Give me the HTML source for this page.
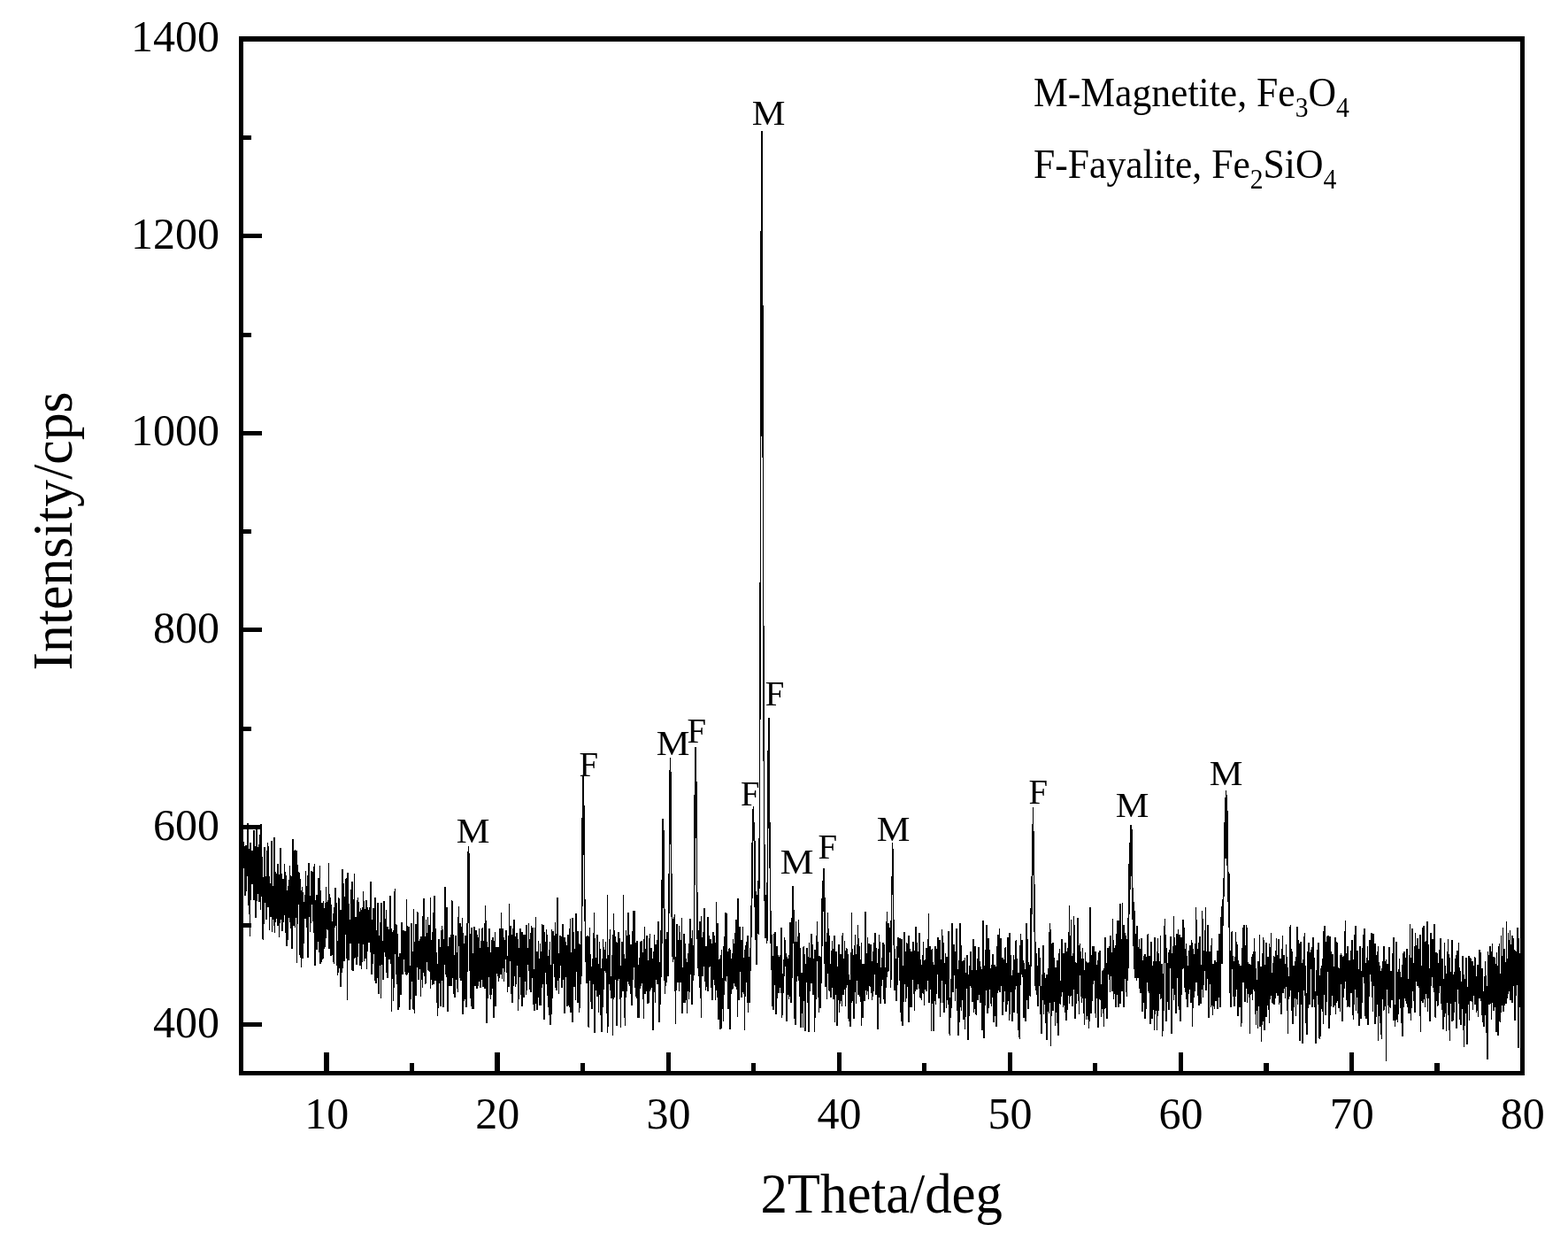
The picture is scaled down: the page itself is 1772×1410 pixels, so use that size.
<!DOCTYPE html>
<html lang="en"><head><meta charset="utf-8"><title>XRD pattern</title>
<style>
html,body{margin:0;padding:0;background:#fff;}
body{width:1772px;height:1410px;overflow:hidden;}
svg{display:block;}
text{font-family:"Liberation Serif",serif;fill:#000;}
.tick{font-size:50px;}
.ttl{font-size:62.5px;}
.leg{font-size:45.7px;}
.pk{font-size:40px;}
</style></head><body>
<svg width="1772" height="1410" viewBox="0 0 1772 1410">
<rect x="0" y="0" width="1772" height="1410" fill="#fff"/>

<polyline points="272.46,960.0 272.65,929.1 272.85,934.6 273.04,979.5 273.23,978.7 273.43,988.4 273.62,966.0 273.81,983.0 274.00,964.2 274.20,1024.8 274.39,942.1 274.58,979.4 274.78,958.6 274.97,976.0 275.16,980.4 275.36,959.8 275.55,951.5 275.74,976.6 275.94,976.0 276.13,956.3 276.32,992.8 276.51,1006.8 276.71,959.9 276.90,983.7 277.09,1012.0 277.29,985.3 277.48,978.3 277.67,997.6 277.87,1007.2 278.06,973.5 278.25,955.1 278.45,983.3 278.64,995.8 278.83,969.1 279.02,961.3 279.22,985.9 279.41,967.2 279.60,957.7 279.80,990.1 279.99,930.0 280.18,980.3 280.38,982.5 280.57,961.9 280.76,1018.3 280.96,1003.9 281.15,1009.3 281.34,1032.2 281.53,990.0 281.73,981.6 281.92,1011.4 282.11,959.5 282.31,1058.0 282.50,969.9 282.69,969.9 282.89,951.9 283.08,1003.0 283.27,956.1 283.47,957.7 283.66,1016.6 283.85,969.0 284.04,984.8 284.24,960.9 284.43,989.4 284.62,978.7 284.82,969.8 285.01,998.9 285.20,964.9 285.40,983.3 285.59,971.7 285.78,998.1 285.98,961.3 286.17,972.4 286.36,989.7 286.55,968.6 286.75,951.9 286.94,938.1 287.13,1017.1 287.33,959.0 287.52,969.2 287.71,983.4 287.91,1007.1 288.10,956.5 288.29,1019.9 288.49,980.5 288.68,966.0 288.87,1036.5 289.06,1006.4 289.26,1028.4 289.45,987.4 289.64,951.8 289.84,933.5 290.03,1017.9 290.22,985.9 290.42,954.4 290.61,934.4 290.80,964.2 291.00,995.3 291.19,974.6 291.38,985.9 291.57,994.1 291.77,1009.9 291.96,985.4 292.15,987.5 292.35,995.9 292.54,996.7 292.73,1018.7 292.93,996.6 293.12,954.5 293.31,987.4 293.51,1018.9 293.70,956.5 293.89,978.2 294.08,943.1 294.28,992.5 294.47,1005.3 294.66,1028.1 294.86,961.8 295.05,931.3 295.24,1010.3 295.44,1006.4 295.63,978.1 295.82,1013.1 296.02,1001.2 296.21,1003.3 296.40,990.1 296.59,968.5 296.79,994.9 296.98,1061.0 297.17,1012.9 297.37,1000.1 297.56,1062.1 297.75,1048.2 297.95,995.3 298.14,1024.8 298.33,991.9 298.53,986.1 298.72,960.9 298.91,966.5 299.11,956.9 299.30,981.1 299.49,995.7 299.68,1000.0 299.88,999.4 300.07,1019.9 300.26,1010.4 300.46,1001.2 300.65,992.4 300.84,1004.2 301.04,1038.9 301.23,992.6 301.42,982.7 301.62,961.0 301.81,973.5 302.00,1005.1 302.19,1011.6 302.39,952.3 302.58,985.4 302.77,962.5 302.97,956.2 303.16,1024.5 303.35,995.1 303.55,992.6 303.74,990.4 303.93,992.3 304.13,1003.3 304.32,1007.9 304.51,1050.6 304.70,1021.8 304.90,1036.4 305.09,1016.2 305.28,1029.5 305.48,1003.2 305.67,997.6 305.86,1009.1 306.06,1009.5 306.25,1016.2 306.44,1030.9 306.64,1026.4 306.83,1035.7 307.02,950.0 307.21,1024.0 307.41,1009.9 307.60,1053.4 307.79,1000.7 307.99,1037.5 308.18,1034.7 308.37,1020.4 308.57,1027.4 308.76,1006.4 308.95,1026.6 309.15,1039.4 309.34,1036.1 309.53,987.7 309.72,1018.1 309.92,946.0 310.11,1018.5 310.30,1054.2 310.50,974.8 310.69,1048.9 310.88,999.3 311.08,996.0 311.27,1041.8 311.46,1001.3 311.66,985.4 311.85,998.2 312.04,1003.4 312.23,987.4 312.43,1005.9 312.62,1002.7 312.81,1015.4 313.01,999.7 313.20,1037.9 313.39,999.6 313.59,1031.9 313.78,1046.4 313.97,1011.1 314.17,976.0 314.36,987.9 314.55,1017.9 314.74,986.5 314.94,1011.5 315.13,1003.9 315.32,1000.5 315.52,1058.7 315.71,1003.4 315.90,1033.8 316.10,1026.6 316.29,1043.3 316.48,1041.5 316.68,1024.7 316.87,980.3 317.06,958.3 317.25,995.8 317.45,968.7 317.64,999.7 317.83,1038.5 318.03,992.2 318.22,987.5 318.41,1010.2 318.61,996.2 318.80,994.0 318.99,1032.4 319.19,1052.2 319.38,1028.1 319.57,1032.0 319.76,1038.4 319.96,1009.4 320.15,993.0 320.34,1041.8 320.54,1014.3 320.73,1006.6 320.92,1010.2 321.12,1001.2 321.31,1033.5 321.50,1006.4 321.70,975.6 321.89,1002.5 322.08,1034.2 322.27,1005.6 322.47,991.3 322.66,1013.2 322.85,1036.2 323.05,988.7 323.24,1053.9 323.43,1013.8 323.63,1025.9 323.82,1052.6 324.01,1069.0 324.21,1015.0 324.40,1048.8 324.59,1006.5 324.78,1028.8 324.98,1061.5 325.17,1032.7 325.36,1010.1 325.56,1001.3 325.75,1012.4 325.94,1016.0 326.14,1007.3 326.33,1024.5 326.52,994.1 326.72,1018.6 326.91,1014.7 327.10,1007.5 327.29,1042.4 327.49,1032.1 327.68,978.0 327.87,1002.1 328.07,1012.2 328.26,994.1 328.45,1010.6 328.65,992.5 328.84,1016.1 329.03,999.2 329.23,1048.7 329.42,989.8 329.61,1040.2 329.80,1071.6 330.00,1044.4 330.19,1047.8 330.38,1032.0 330.58,1055.5 330.77,1012.8 330.96,948.4 331.16,1038.6 331.35,997.2 331.54,1010.2 331.74,998.8 331.93,1046.4 332.12,1033.8 332.31,999.8 332.51,1014.2 332.70,979.2 332.89,1036.7 333.09,1020.0 333.28,960.1 333.47,1045.3 333.67,1048.0 333.86,1026.5 334.05,1024.3 334.25,1001.6 334.44,1016.3 334.63,1036.4 334.82,1015.3 335.02,961.4 335.21,994.1 335.40,1087.7 335.60,1027.4 335.79,1044.1 335.98,1009.5 336.18,1026.8 336.37,977.2 336.56,998.6 336.76,998.5 336.95,1014.0 337.14,1018.3 337.33,1008.5 337.53,985.4 337.72,1002.1 337.91,1022.0 338.11,985.8 338.30,1012.8 338.49,1021.5 338.69,1039.5 338.88,1034.4 339.07,1034.8 339.27,1082.0 339.46,992.8 339.65,1001.9 339.84,1020.6 340.04,1080.0 340.23,1014.1 340.42,1021.7 340.62,1092.9 340.81,1047.1 341.00,1033.1 341.20,1009.1 341.39,1001.6 341.58,1007.0 341.78,1061.9 341.97,1082.5 342.16,1017.8 342.35,1029.7 342.55,1008.2 342.74,1033.2 342.93,1025.8 343.13,1065.5 343.32,1021.0 343.51,1040.9 343.71,1022.2 343.90,1019.2 344.09,1032.0 344.29,1021.9 344.48,1029.5 344.67,1011.4 344.86,1015.7 345.06,1037.6 345.25,1037.1 345.44,983.6 345.64,1025.9 345.83,1001.0 346.02,1014.4 346.22,1035.7 346.41,1039.1 346.60,1018.2 346.80,1014.1 346.99,1005.4 347.18,1048.3 347.38,1034.0 347.57,1024.6 347.76,988.8 347.95,1081.7 348.15,1019.1 348.34,1039.6 348.53,1013.5 348.73,1029.5 348.92,1005.1 349.11,974.6 349.31,1001.2 349.50,1000.7 349.69,1005.3 349.89,1035.8 350.08,1012.1 350.27,1034.7 350.46,1053.1 350.66,1038.3 350.85,1043.3 351.04,1019.8 351.24,1035.2 351.43,1042.1 351.62,991.5 351.82,996.3 352.01,984.3 352.20,994.8 352.40,1008.2 352.59,1014.4 352.78,1011.9 352.97,985.2 353.17,1005.0 353.36,1041.1 353.55,1007.7 353.75,1038.0 353.94,1000.9 354.13,1031.2 354.33,1033.4 354.52,1004.8 354.71,1013.3 354.91,1053.8 355.10,1003.8 355.29,976.3 355.48,1063.1 355.68,992.1 355.87,1052.9 356.06,1091.0 356.26,1048.1 356.45,1078.7 356.64,1016.7 356.84,1033.4 357.03,1058.8 357.22,1044.3 357.42,1068.5 357.61,1039.9 357.80,1011.0 357.99,1073.3 358.19,1048.0 358.38,1039.1 358.57,1022.5 358.77,1018.2 358.96,1059.6 359.15,1064.3 359.35,1033.7 359.54,1047.5 359.73,1041.7 359.93,1007.2 360.12,992.2 360.31,1024.5 360.50,1035.7 360.70,1019.4 360.89,1075.6 361.08,1033.6 361.28,1056.7 361.47,977.7 361.66,1013.9 361.86,1026.1 362.05,1034.4 362.24,1089.3 362.44,1020.8 362.63,1005.8 362.82,1064.1 363.01,1035.5 363.21,1036.2 363.40,1087.2 363.59,1030.3 363.79,1020.1 363.98,1045.0 364.17,1051.2 364.37,1031.8 364.56,1083.9 364.75,1045.9 364.95,1021.9 365.14,1070.9 365.33,1017.6 365.52,1046.7 365.72,1082.5 365.91,1038.3 366.10,1059.8 366.30,1034.2 366.49,1072.0 366.68,1026.2 366.88,1069.9 367.07,1047.0 367.26,1067.8 367.46,1058.8 367.65,1020.5 367.84,1037.5 368.03,1046.0 368.23,1060.2 368.42,1001.7 368.61,1008.6 368.81,1031.4 369.00,1019.1 369.19,1049.1 369.39,1050.1 369.58,1046.5 369.77,1020.4 369.97,1022.5 370.16,1047.6 370.35,1017.0 370.54,1019.2 370.74,1036.2 370.93,1019.5 371.12,1051.4 371.32,1048.8 371.51,975.0 371.70,1046.8 371.90,1027.0 372.09,1071.6 372.28,1010.2 372.48,1058.8 372.67,1044.4 372.86,1071.7 373.05,1028.1 373.25,1014.0 373.44,1019.5 373.63,1025.5 373.83,1079.7 374.02,1062.6 374.21,1055.6 374.41,1066.9 374.60,1022.0 374.79,1044.8 374.99,1051.7 375.18,1042.7 375.37,1077.4 375.56,1078.4 375.76,1078.8 375.95,1047.3 376.14,1049.6 376.34,1043.4 376.53,1032.1 376.72,1087.2 376.92,1070.2 377.11,1054.9 377.30,1088.6 377.50,1069.5 377.69,1032.9 377.88,1028.0 378.07,1025.2 378.27,1045.0 378.46,1047.5 378.65,1015.8 378.85,1046.0 379.04,1027.7 379.23,1003.2 379.43,1039.0 379.62,1043.3 379.81,1030.6 380.01,1019.8 380.20,1026.8 380.39,1039.6 380.58,1036.6 380.78,1091.0 380.97,1080.3 381.16,1062.6 381.36,1090.8 381.55,1102.2 381.74,1100.0 381.94,1092.4 382.13,1072.9 382.32,1087.2 382.52,1053.3 382.71,1014.3 382.90,1050.0 383.09,1014.9 383.29,1036.7 383.48,1070.9 383.67,1056.8 383.87,1079.4 384.06,1046.3 384.25,1093.5 384.45,1040.8 384.64,1058.1 384.83,1114.9 385.03,1049.3 385.22,1028.2 385.41,1076.7 385.60,1033.9 385.80,1093.2 385.99,1044.6 386.18,1085.0 386.38,1035.1 386.57,1083.3 386.76,1098.7 386.96,1027.0 387.15,981.6 387.34,1041.2 387.54,1006.7 387.73,1022.1 387.92,1033.5 388.11,1016.3 388.31,998.2 388.50,1067.7 388.69,1033.2 388.89,1043.1 389.08,1086.1 389.27,1020.3 389.47,1013.5 389.66,1078.3 389.85,1017.6 390.05,1053.7 390.24,1056.2 390.43,1015.0 390.62,1037.6 390.82,1028.4 391.01,994.3 391.20,992.6 391.40,996.6 391.59,1045.4 391.78,1049.6 391.98,992.0 392.17,1041.7 392.36,1130.4 392.56,1052.6 392.75,1035.6 392.94,986.0 393.13,999.1 393.33,1060.2 393.52,1043.0 393.71,1048.0 393.91,1021.4 394.10,1084.5 394.29,1057.4 394.49,1063.4 394.68,1047.2 394.87,1046.9 395.07,1064.9 395.26,1046.5 395.45,1058.2 395.65,1039.0 395.84,1052.4 396.03,1066.2 396.22,1054.1 396.42,1046.9 396.61,1004.9 396.80,1065.2 397.00,1045.7 397.19,1018.3 397.38,1095.6 397.58,1087.4 397.77,1075.3 397.96,1052.1 398.16,995.7 398.35,1041.2 398.54,1021.7 398.73,1050.6 398.93,1097.3 399.12,1091.5 399.31,1016.3 399.51,1035.5 399.70,1070.8 399.89,1020.4 400.09,1082.7 400.28,1026.6 400.47,987.0 400.67,1073.3 400.86,1081.7 401.05,1038.3 401.24,1080.6 401.44,1036.2 401.63,1081.4 401.82,1035.9 402.02,1050.2 402.21,1060.5 402.40,1069.5 402.60,1043.4 402.79,1090.1 402.98,1054.5 403.18,1058.3 403.37,1036.3 403.56,1081.2 403.75,1017.0 403.95,1062.6 404.14,1080.6 404.33,1023.1 404.53,1014.4 404.72,1052.7 404.91,1066.0 405.11,1044.8 405.30,1061.3 405.49,1055.9 405.69,1019.3 405.88,1050.8 406.07,1061.7 406.26,1062.3 406.46,1076.0 406.65,1060.1 406.84,1062.1 407.04,1090.7 407.23,1079.1 407.42,1025.6 407.62,1067.6 407.81,1079.3 408.00,1028.4 408.20,1072.2 408.39,1095.1 408.58,1054.2 408.77,1087.4 408.97,1076.7 409.16,1056.2 409.35,1063.1 409.55,1073.5 409.74,1065.5 409.93,1064.3 410.13,1024.8 410.32,1067.4 410.51,1065.1 410.71,1007.5 410.90,1064.3 411.09,1018.5 411.28,1022.7 411.48,1056.4 411.67,1086.0 411.86,1046.2 412.06,1042.8 412.25,1037.6 412.44,1058.2 412.64,1033.1 412.83,1028.8 413.02,1082.9 413.22,1027.5 413.41,1054.8 413.60,1071.0 413.79,1065.6 413.99,1017.1 414.18,1035.7 414.37,1094.6 414.57,1050.0 414.76,1051.5 414.95,1049.4 415.15,1055.0 415.34,1075.4 415.53,1025.0 415.73,1065.7 415.92,1053.5 416.11,1058.7 416.30,1061.1 416.50,1028.0 416.69,1035.3 416.88,1058.4 417.08,1064.8 417.27,1055.2 417.46,1024.8 417.66,1044.6 417.85,1042.4 418.04,1053.6 418.24,1049.1 418.43,1034.5 418.62,1075.6 418.81,996.2 419.01,1048.0 419.20,1044.8 419.39,1007.5 419.59,1039.1 419.78,1050.9 419.97,1072.5 420.17,1100.9 420.36,1067.0 420.55,1046.9 420.75,1092.4 420.94,1039.1 421.13,1088.7 421.32,1073.8 421.52,1040.2 421.71,1045.9 421.90,1026.3 422.10,1054.8 422.29,1059.4 422.48,1078.0 422.68,1065.1 422.87,1065.3 423.06,1077.4 423.26,1045.1 423.45,1072.7 423.64,1107.5 423.83,1013.8 424.03,1090.4 424.22,1101.8 424.41,1048.0 424.61,1050.5 424.80,1102.6 424.99,1110.5 425.19,1100.8 425.38,1054.1 425.57,1086.0 425.77,1097.3 425.96,1079.9 426.15,1051.1 426.34,1105.4 426.54,1080.3 426.73,1099.7 426.92,1020.0 427.12,1027.8 427.31,1048.1 427.50,1074.3 427.70,1059.6 427.89,1123.1 428.08,1073.1 428.28,1110.5 428.47,1111.1 428.66,1096.6 428.85,1086.4 429.05,1062.8 429.24,1056.9 429.43,1064.2 429.63,1089.5 429.82,1053.6 430.01,1071.2 430.21,1042.5 430.40,1087.9 430.59,1127.5 430.79,1076.9 430.98,1019.9 431.17,1058.6 431.36,1075.1 431.56,1053.0 431.75,1063.1 431.94,1066.2 432.14,1089.7 432.33,1078.4 432.52,1076.7 432.72,1095.7 432.91,1106.6 433.10,1079.3 433.30,1060.9 433.49,1067.0 433.68,1068.7 433.87,1066.1 434.07,1018.1 434.26,1067.8 434.45,1050.8 434.65,1032.0 434.84,1075.5 435.03,1072.0 435.23,1054.7 435.42,1038.4 435.61,1064.1 435.81,1057.1 436.00,1057.1 436.19,1081.3 436.38,1028.1 436.58,1058.3 436.77,1092.6 436.96,1061.3 437.16,1099.4 437.35,1086.3 437.54,1065.8 437.74,1088.2 437.93,1046.6 438.12,1105.0 438.32,1070.7 438.51,1068.7 438.70,1052.8 438.89,1066.7 439.09,1081.7 439.28,1082.8 439.47,1081.8 439.67,1050.0 439.86,1083.6 440.05,1052.9 440.25,1063.1 440.44,1054.0 440.63,1064.6 440.83,1012.4 441.02,1074.7 441.21,1056.1 441.40,1056.5 441.60,1050.4 441.79,1055.7 441.98,1058.4 442.18,1048.7 442.37,1143.0 442.56,1074.5 442.76,1103.8 442.95,1073.6 443.14,1106.1 443.34,1102.6 443.53,1084.0 443.72,1052.8 443.92,1071.1 444.11,1077.6 444.30,1053.8 444.49,1105.8 444.69,1131.0 444.88,1093.6 445.07,1087.7 445.27,1050.5 445.46,1025.8 445.65,1096.0 445.85,1007.1 446.04,1022.8 446.23,1036.2 446.43,1045.9 446.62,1004.2 446.81,1057.7 447.00,1074.3 447.20,1065.0 447.39,1101.3 447.58,1063.5 447.78,1077.6 447.97,1068.7 448.16,1068.0 448.36,1098.2 448.55,1045.1 448.74,1095.7 448.94,1055.1 449.13,1111.8 449.32,1072.2 449.51,1102.0 449.71,1086.6 449.90,1104.8 450.09,1141.0 450.29,1119.7 450.48,1094.3 450.67,1081.4 450.87,1125.6 451.06,1138.4 451.25,1110.2 451.45,1095.9 451.64,1106.1 451.83,1111.6 452.02,1077.4 452.22,1077.4 452.41,1084.3 452.60,1121.8 452.80,1098.9 452.99,1102.0 453.18,1124.4 453.38,1068.3 453.57,1079.9 453.76,1087.2 453.96,1041.7 454.15,1053.7 454.34,1050.9 454.53,1044.0 454.73,1056.0 454.92,1100.7 455.11,1083.2 455.31,1054.7 455.50,1095.6 455.69,1079.9 455.89,1073.2 456.08,1050.8 456.27,1053.3 456.47,1061.0 456.66,1083.9 456.85,1059.6 457.04,1068.4 457.24,1084.1 457.43,1051.6 457.62,1070.6 457.82,1097.6 458.01,1052.3 458.20,1082.5 458.40,1059.3 458.59,1100.6 458.78,1063.7 458.98,1081.4 459.17,1081.2 459.36,1102.4 459.55,1015.9 459.75,1068.4 459.94,1062.6 460.13,1046.1 460.33,1074.7 460.52,1061.2 460.71,1101.1 460.91,1065.2 461.10,1075.9 461.29,1053.4 461.49,1057.8 461.68,1089.8 461.87,1099.0 462.06,1082.0 462.26,1046.8 462.45,1057.9 462.64,1063.5 462.84,1121.6 463.03,1141.3 463.22,1100.9 463.42,1098.9 463.61,1108.8 463.80,1091.3 464.00,1105.3 464.19,1128.9 464.38,1122.3 464.57,1098.7 464.77,1097.5 464.96,1097.1 465.15,1042.7 465.35,1095.3 465.54,1085.5 465.73,1109.2 465.93,1095.0 466.12,1075.9 466.31,1075.2 466.51,1090.6 466.70,1076.7 466.89,1081.3 467.08,1120.5 467.28,1140.7 467.47,1026.8 467.66,1060.8 467.86,1083.8 468.05,1124.5 468.24,1118.2 468.44,1063.6 468.63,1145.2 468.82,1103.0 469.02,1077.3 469.21,1092.7 469.40,1078.9 469.59,1098.5 469.79,1044.4 469.98,1119.0 470.17,1125.1 470.37,1086.6 470.56,1056.7 470.75,1083.0 470.95,1052.5 471.14,1081.2 471.33,1091.4 471.53,1033.4 471.72,1030.2 471.91,1032.6 472.10,1077.9 472.30,1096.1 472.49,1098.7 472.68,1079.7 472.88,1063.1 473.07,1065.0 473.26,1107.0 473.46,1070.8 473.65,1073.5 473.84,1070.9 474.04,1073.2 474.23,1077.5 474.42,1061.1 474.61,1072.7 474.81,1072.4 475.00,1094.5 475.19,1072.2 475.39,1083.6 475.58,1126.3 475.77,1068.9 475.97,1084.4 476.16,1057.8 476.35,1081.1 476.55,1079.5 476.74,1072.9 476.93,1078.0 477.12,1087.4 477.32,1115.8 477.51,1035.4 477.70,1108.6 477.90,1080.9 478.09,1058.8 478.28,1064.5 478.48,1060.5 478.67,1056.6 478.86,1046.8 479.06,1069.4 479.25,1015.0 479.44,1102.5 479.63,1078.1 479.83,1093.6 480.02,1101.1 480.21,1086.8 480.41,1064.3 480.60,1112.4 480.79,1110.8 480.99,1076.1 481.18,1075.6 481.37,1038.9 481.57,1052.2 481.76,1062.9 481.95,1069.6 482.14,1053.9 482.34,1060.7 482.53,1087.0 482.72,1058.9 482.92,1065.8 483.11,1070.6 483.30,1078.8 483.50,1036.4 483.69,1060.6 483.88,1056.2 484.08,1089.1 484.27,1096.7 484.46,1078.9 484.65,1065.4 484.85,1076.0 485.04,1070.8 485.23,1045.5 485.43,1061.8 485.62,1093.9 485.81,1087.1 486.01,1097.7 486.20,1084.4 486.39,1117.2 486.59,1014.0 486.78,1078.5 486.97,1090.6 487.16,1106.9 487.36,1095.8 487.55,1076.3 487.74,1067.7 487.94,1061.6 488.13,1085.4 488.32,1112.7 488.52,1053.3 488.71,1076.0 488.90,1069.8 489.10,1066.7 489.29,1089.9 489.48,1068.9 489.67,1051.7 489.87,1030.9 490.06,1049.3 490.25,1112.3 490.45,1054.0 490.64,1041.5 490.83,1022.6 491.03,1037.7 491.22,1012.1 491.41,1029.8 491.61,1036.9 491.80,1051.7 491.99,1107.8 492.19,1064.1 492.38,1072.7 492.57,1098.8 492.76,1076.0 492.96,1080.9 493.15,1101.3 493.34,1095.2 493.54,1099.2 493.73,1089.8 493.92,1106.6 494.12,1089.2 494.31,1146.5 494.50,1114.8 494.70,1147.9 494.89,1124.9 495.08,1103.7 495.27,1112.4 495.47,1111.0 495.66,1100.8 495.85,1060.7 496.05,1111.2 496.24,1061.5 496.43,1108.9 496.63,1083.9 496.82,1070.1 497.01,1094.7 497.21,1076.5 497.40,1070.3 497.59,1116.2 497.78,1094.7 497.98,1102.5 498.17,1136.6 498.36,1097.6 498.56,1109.1 498.75,1061.3 498.94,1108.0 499.14,1051.0 499.33,1099.1 499.52,1046.1 499.72,1077.5 499.91,1080.2 500.10,1072.7 500.29,1070.4 500.49,1058.7 500.68,1050.0 500.87,1092.7 501.07,1109.4 501.26,1137.7 501.45,1086.5 501.65,1060.8 501.84,1069.1 502.03,1075.3 502.23,1085.0 502.42,1089.9 502.61,1080.1 502.80,1063.1 503.00,1002.0 503.19,1051.6 503.38,1098.1 503.58,1070.2 503.77,1082.3 503.96,1079.8 504.16,1098.1 504.35,1103.5 504.54,1084.7 504.74,1102.7 504.93,1025.0 505.12,1087.3 505.31,1093.7 505.51,1093.9 505.70,1108.9 505.89,1142.9 506.09,1098.7 506.28,1088.4 506.47,1127.2 506.67,1091.8 506.86,1113.7 507.05,1082.8 507.25,1068.9 507.44,1062.8 507.63,1063.5 507.82,1090.2 508.02,1059.3 508.21,1091.9 508.40,1077.7 508.60,1071.4 508.79,1093.3 508.98,1113.5 509.18,1071.0 509.37,1106.9 509.56,1100.3 509.76,1102.2 509.95,1056.5 510.14,1073.9 510.33,1113.9 510.53,1044.0 510.72,1018.0 510.91,1018.0 511.11,1062.6 511.30,1051.5 511.49,1048.3 511.69,1047.5 511.88,1073.6 512.07,1104.9 512.27,1070.7 512.46,1077.8 512.65,1122.6 512.84,1103.6 513.04,1090.3 513.23,1095.8 513.42,1084.1 513.62,1078.8 513.81,1085.1 514.00,1099.9 514.20,1127.0 514.39,1084.9 514.58,1068.5 514.78,1056.9 514.97,1101.3 515.16,1101.8 515.35,1069.5 515.55,1068.0 515.74,1088.9 515.93,1078.0 516.13,1107.3 516.32,1076.0 516.51,1104.4 516.71,1087.9 516.90,1085.3 517.09,1089.8 517.29,1121.0 517.48,1087.8 517.67,1056.6 517.86,1058.4 518.06,1059.2 518.25,1036.3 518.44,1027.5 518.64,1023.6 518.83,1062.1 519.02,1049.8 519.22,1064.8 519.41,1084.0 519.60,1104.6 519.80,1081.1 519.99,1103.7 520.18,1042.9 520.37,1094.4 520.57,1097.9 520.76,1100.7 520.95,1049.4 521.15,1107.5 521.34,1087.6 521.53,1097.4 521.73,1079.9 521.92,1074.3 522.11,1046.7 522.31,1099.7 522.50,1070.2 522.69,1037.0 522.88,1086.6 523.08,1145.6 523.27,1103.6 523.46,1144.8 523.66,1093.1 523.85,1066.4 524.04,1101.7 524.24,1130.9 524.43,1085.0 524.62,1089.1 524.82,1069.6 525.01,1072.3 525.20,1098.4 525.39,1083.5 525.59,1129.3 525.78,1063.4 525.97,1079.9 526.17,1057.5 526.36,1056.9 526.55,1087.4 526.75,1087.7 526.94,1107.8 527.13,1137.9 527.33,1098.1 527.52,1091.3 527.71,1114.0 527.90,1065.0 528.10,1065.1 528.29,1040.0 528.48,1048.6 528.68,1051.3 528.87,971.7 529.06,980.9 529.26,962.4 529.45,955.7 529.64,960.9 529.84,965.7 530.03,988.7 530.22,1042.5 530.41,999.1 530.61,1073.1 530.80,1066.7 530.99,1082.1 531.19,1080.7 531.38,1128.1 531.57,1068.1 531.77,1078.3 531.96,1071.5 532.15,1055.3 532.35,1094.9 532.54,1136.9 532.73,1067.0 532.92,1048.3 533.12,1055.7 533.31,1097.1 533.50,1092.5 533.70,1089.6 533.89,1139.7 534.08,1119.6 534.28,1122.7 534.47,1077.3 534.66,1126.4 534.86,1077.2 535.05,1107.9 535.24,1140.4 535.43,1051.3 535.63,1114.4 535.82,1074.5 536.01,1046.6 536.21,1092.6 536.40,1107.4 536.59,1059.6 536.79,1083.1 536.98,1113.6 537.17,1112.6 537.37,1098.5 537.56,1068.9 537.75,1095.0 537.94,1073.9 538.14,1051.3 538.33,1057.9 538.52,1052.8 538.72,1056.2 538.91,1117.1 539.10,1056.1 539.30,1075.5 539.49,1085.3 539.68,1105.1 539.88,1114.4 540.07,1102.0 540.26,1076.7 540.46,1100.6 540.65,1092.0 540.84,1086.8 541.03,1058.8 541.23,1080.2 541.42,1078.6 541.61,1049.1 541.81,1087.5 542.00,1070.8 542.19,1109.3 542.39,1081.9 542.58,1089.0 542.77,1089.8 542.97,1104.5 543.16,1116.2 543.35,1098.6 543.54,1099.3 543.74,1063.9 543.93,1063.9 544.12,1106.7 544.32,1064.4 544.51,1085.4 544.70,1062.7 544.90,1081.2 545.09,1101.6 545.28,1047.6 545.48,1060.2 545.67,1097.9 545.86,1115.4 546.05,1090.6 546.25,1109.5 546.44,1096.7 546.63,1079.2 546.83,1062.6 547.02,1101.9 547.21,1063.1 547.41,1064.9 547.60,1095.3 547.79,1117.3 547.99,1059.2 548.18,1062.2 548.37,1023.5 548.56,1043.4 548.76,1058.0 548.95,1039.8 549.14,1101.3 549.34,1078.6 549.53,1094.3 549.72,1057.6 549.92,1090.0 550.11,1155.8 550.30,1083.8 550.50,1136.4 550.69,1101.6 550.88,1127.9 551.07,1110.0 551.27,1098.1 551.46,1103.5 551.65,1124.2 551.85,1070.5 552.04,1090.0 552.23,1097.0 552.43,1079.2 552.62,1103.5 552.81,1049.5 553.01,1084.3 553.20,1081.6 553.39,1083.9 553.58,1114.2 553.78,1123.6 553.97,1097.3 554.16,1097.2 554.36,1077.5 554.55,1097.1 554.74,1129.0 554.94,1091.5 555.13,1081.7 555.32,1074.5 555.52,1085.7 555.71,1116.1 555.90,1062.4 556.09,1101.2 556.29,1071.4 556.48,1117.2 556.67,1068.2 556.87,1104.6 557.06,1068.8 557.25,1058.6 557.45,1074.7 557.64,1126.1 557.83,1119.9 558.03,1150.0 558.22,1077.4 558.41,1080.2 558.60,1081.1 558.80,1075.9 558.99,1070.3 559.18,1071.4 559.38,1053.0 559.57,1094.6 559.76,1091.9 559.96,1137.1 560.15,1125.1 560.34,1110.5 560.54,1120.2 560.73,1089.3 560.92,1070.4 561.11,1099.7 561.31,1097.6 561.50,1095.1 561.69,1079.0 561.89,1092.9 562.08,1073.0 562.27,1078.9 562.47,1082.6 562.66,1079.1 562.85,1100.5 563.05,1102.5 563.24,1070.0 563.43,1108.6 563.62,1087.6 563.82,1099.1 564.01,1104.8 564.20,1099.2 564.40,1101.6 564.59,1079.1 564.78,1089.4 564.98,1084.3 565.17,1049.4 565.36,1080.6 565.56,1056.2 565.75,1078.2 565.94,1067.9 566.13,1101.2 566.33,1085.3 566.52,1031.5 566.71,1070.1 566.91,1065.3 567.10,1080.3 567.29,1064.9 567.49,1106.2 567.68,1096.0 567.87,1063.7 568.07,1049.5 568.26,1069.9 568.45,1060.4 568.64,1062.1 568.84,1059.2 569.03,1084.2 569.22,1093.5 569.42,1068.9 569.61,1108.6 569.80,1094.7 570.00,1088.3 570.19,1095.5 570.38,1065.0 570.58,1077.1 570.77,1066.5 570.96,1084.4 571.15,1077.8 571.35,1051.4 571.54,1057.1 571.73,1078.7 571.93,1065.2 572.12,1073.6 572.31,1078.6 572.51,1051.0 572.70,1097.1 572.89,1081.8 573.09,1084.0 573.28,1100.0 573.47,1120.9 573.66,1080.5 573.86,1089.1 574.05,1092.5 574.24,1090.8 574.44,1086.9 574.63,1102.3 574.82,1072.8 575.02,1115.4 575.21,1074.7 575.40,1021.4 575.60,1079.8 575.79,1056.8 575.98,1078.3 576.17,1083.6 576.37,1062.8 576.56,1080.9 576.75,1085.1 576.95,1086.1 577.14,1046.3 577.33,1066.9 577.53,1073.5 577.72,1113.0 577.91,1077.5 578.11,1122.5 578.30,1086.8 578.49,1122.6 578.68,1055.8 578.88,1132.7 579.07,1066.9 579.26,1072.3 579.46,1124.1 579.65,1087.6 579.84,1048.7 580.04,1053.9 580.23,1114.0 580.42,1090.1 580.62,1105.0 580.81,1101.8 581.00,1093.2 581.19,1039.3 581.39,1076.8 581.58,1085.9 581.77,1089.9 581.97,1069.9 582.16,1071.3 582.35,1108.3 582.55,1058.4 582.74,1114.8 582.93,1098.2 583.13,1082.7 583.32,1054.4 583.51,1096.6 583.70,1080.2 583.90,1055.4 584.09,1067.4 584.28,1054.2 584.48,1054.6 584.67,1072.0 584.86,1066.7 585.06,1064.9 585.25,1090.6 585.44,1060.7 585.64,1142.2 585.83,1121.6 586.02,1071.4 586.21,1093.1 586.41,1115.3 586.60,1090.9 586.79,1072.3 586.99,1103.9 587.18,1071.0 587.37,1085.8 587.57,1081.6 587.76,1077.2 587.95,1048.9 588.15,1095.6 588.34,1080.2 588.53,1061.7 588.73,1108.5 588.92,1123.8 589.11,1085.0 589.30,1104.2 589.50,1113.2 589.69,1111.0 589.88,1137.0 590.08,1053.3 590.27,1134.9 590.46,1118.8 590.66,1135.3 590.85,1109.1 591.04,1063.3 591.24,1092.8 591.43,1079.2 591.62,1103.2 591.81,1056.3 592.01,1094.7 592.20,1127.2 592.39,1084.4 592.59,1107.6 592.78,1082.9 592.97,1088.0 593.17,1080.1 593.36,1078.3 593.55,1097.4 593.75,1108.9 593.94,1056.3 594.13,1082.3 594.32,1075.4 594.52,1092.2 594.71,1124.4 594.90,1105.6 595.10,1044.6 595.29,1088.1 595.48,1076.9 595.68,1099.4 595.87,1079.5 596.06,1077.6 596.26,1076.1 596.45,1074.6 596.64,1087.7 596.83,1087.6 597.03,1076.7 597.22,1070.6 597.41,1082.1 597.61,1043.3 597.80,1078.0 597.99,1079.8 598.19,1097.4 598.38,1060.8 598.57,1104.7 598.77,1118.1 598.96,1105.7 599.15,1073.3 599.34,1113.0 599.54,1061.8 599.73,1090.0 599.92,1121.1 600.12,1091.6 600.31,1046.2 600.50,1101.7 600.70,1112.1 600.89,1075.7 601.08,1062.9 601.28,1073.4 601.47,1105.2 601.66,1094.9 601.85,1090.9 602.05,1070.8 602.24,1048.4 602.43,1097.0 602.63,1069.0 602.82,1108.8 603.01,1095.0 603.21,1134.7 603.40,1136.8 603.59,1114.2 603.79,1142.0 603.98,1100.2 604.17,1125.1 604.36,1104.0 604.56,1100.6 604.75,1101.5 604.94,1090.3 605.14,1072.0 605.33,1035.8 605.52,1130.8 605.72,1103.9 605.91,1117.4 606.10,1134.2 606.30,1107.3 606.49,1129.5 606.68,1108.2 606.87,1074.9 607.07,1140.8 607.26,1088.9 607.45,1082.4 607.65,1110.7 607.84,1077.0 608.03,1079.2 608.23,1094.2 608.42,1062.7 608.61,1120.6 608.81,1083.2 609.00,1106.4 609.19,1127.2 609.38,1109.7 609.58,1113.5 609.77,1087.3 609.96,1135.6 610.16,1106.1 610.35,1110.7 610.54,1066.5 610.74,1124.2 610.93,1076.9 611.12,1135.5 611.32,1086.7 611.51,1092.1 611.70,1075.3 611.89,1092.9 612.09,1115.9 612.28,1105.4 612.47,1043.7 612.67,1068.0 612.86,1092.4 613.05,1055.7 613.25,1092.6 613.44,1094.7 613.63,1107.3 613.83,1058.7 614.02,1045.3 614.21,1111.6 614.40,1087.5 614.60,1075.3 614.79,1053.3 614.98,1151.8 615.18,1097.5 615.37,1086.0 615.56,1130.4 615.76,1087.7 615.95,1089.5 616.14,1074.9 616.34,1098.9 616.53,1073.1 616.72,1091.7 616.91,1063.7 617.11,1073.1 617.30,1086.2 617.49,1111.7 617.69,1049.8 617.88,1066.0 618.07,1075.7 618.27,1113.0 618.46,1109.3 618.65,1067.8 618.85,1089.3 619.04,1125.0 619.23,1107.7 619.42,1108.4 619.62,1118.8 619.81,1137.7 620.00,1092.5 620.20,1107.2 620.39,1122.2 620.58,1147.4 620.78,1119.4 620.97,1099.2 621.16,1073.5 621.36,1096.0 621.55,1063.9 621.74,1087.7 621.93,1111.5 622.13,1158.1 622.32,1129.4 622.51,1138.6 622.71,1110.2 622.90,1098.4 623.09,1146.0 623.29,1102.2 623.48,1125.8 623.67,1050.3 623.87,1094.6 624.06,1107.5 624.25,1106.9 624.44,1127.9 624.64,1081.1 624.83,1082.0 625.02,1051.7 625.22,1059.0 625.41,1061.9 625.60,1052.6 625.80,1085.5 625.99,1088.5 626.18,1079.3 626.38,1103.6 626.57,1078.0 626.76,1080.2 626.95,1056.9 627.15,1070.1 627.34,1110.2 627.53,1069.5 627.73,1042.3 627.92,1116.0 628.11,1097.4 628.31,1084.7 628.50,1116.5 628.69,1101.5 628.89,1089.2 629.08,1118.7 629.27,1084.1 629.46,1081.6 629.66,1117.5 629.85,1090.3 630.04,1014.0 630.24,1098.9 630.43,1088.9 630.62,1087.2 630.82,1107.9 631.01,1082.3 631.20,1094.5 631.40,1122.5 631.59,1088.0 631.78,1078.4 631.97,1077.0 632.17,1105.1 632.36,1079.0 632.55,1057.9 632.75,1081.3 632.94,1060.1 633.13,1057.0 633.33,1085.1 633.52,1069.2 633.71,1088.2 633.91,1057.6 634.10,1081.7 634.29,1091.7 634.48,1080.9 634.68,1082.8 634.87,1075.2 635.06,1076.8 635.26,1115.6 635.45,1108.4 635.64,1090.1 635.84,1089.8 636.03,1099.2 636.22,1044.4 636.42,1076.3 636.61,1101.2 636.80,1083.5 637.00,1070.2 637.19,1091.4 637.38,1138.1 637.57,1100.7 637.77,1103.2 637.96,1059.5 638.15,1144.9 638.35,1071.8 638.54,1106.6 638.73,1081.0 638.93,1104.3 639.12,1091.1 639.31,1067.2 639.51,1086.8 639.70,1064.2 639.89,1087.9 640.08,1095.1 640.28,1092.1 640.47,1100.6 640.66,1095.9 640.86,1067.8 641.05,1125.0 641.24,1137.0 641.44,1101.1 641.63,1061.8 641.82,1070.9 642.02,1059.6 642.21,1056.5 642.40,1095.7 642.59,1075.9 642.79,1135.9 642.98,1094.4 643.17,1072.5 643.37,1123.6 643.56,1138.3 643.75,1124.2 643.95,1091.9 644.14,1070.2 644.33,1037.7 644.53,1061.2 644.72,1124.7 644.91,1143.7 645.10,1093.1 645.30,1075.7 645.49,1134.3 645.68,1110.2 645.88,1106.4 646.07,1091.8 646.26,1090.9 646.46,1070.7 646.65,1055.5 646.84,1075.2 647.04,1155.0 647.23,1036.9 647.42,1105.0 647.61,1109.1 647.81,1079.0 648.00,1052.7 648.19,1091.0 648.39,1073.2 648.58,1105.3 648.77,1080.6 648.97,1115.0 649.16,1088.3 649.35,1095.0 649.55,1094.6 649.74,1071.9 649.93,1076.5 650.12,1110.3 650.32,1076.6 650.51,1130.2 650.70,1070.8 650.90,1032.2 651.09,1079.3 651.28,1079.2 651.48,1088.4 651.67,1071.1 651.86,1097.8 652.06,1073.5 652.25,1094.4 652.44,1099.0 652.63,1089.2 652.83,1095.4 653.02,1133.3 653.21,1052.3 653.41,1093.8 653.60,1131.4 653.79,1068.4 653.99,1088.5 654.18,1079.9 654.37,1066.1 654.57,1099.2 654.76,1143.8 654.95,1084.4 655.14,1079.9 655.34,1067.0 655.53,1108.3 655.72,1100.5 655.92,1087.7 656.11,1102.9 656.30,1099.9 656.50,1087.1 656.69,1112.1 656.88,1052.4 657.08,1102.7 657.27,1072.3 657.46,1066.3 657.65,1055.6 657.85,1003.0 658.04,964.6 658.23,925.5 658.43,919.6 658.62,921.2 658.81,883.6 659.01,916.2 659.20,876.0 659.39,880.5 659.59,880.1 659.78,939.4 659.97,966.2 660.16,909.6 660.36,983.2 660.55,1030.7 660.74,1040.4 660.94,1028.4 661.13,1015.6 661.32,1052.2 661.52,1033.7 661.71,1062.0 661.90,1063.1 662.10,1057.8 662.29,1092.2 662.48,1082.1 662.67,1100.3 662.87,1107.9 663.06,1080.7 663.25,1111.1 663.45,1088.6 663.64,1103.3 663.83,1084.5 664.03,1091.7 664.22,1057.1 664.41,1081.7 664.61,1086.4 664.80,1057.7 664.99,1159.6 665.18,1124.6 665.38,1160.7 665.57,1101.6 665.76,1089.6 665.96,1081.5 666.15,1085.6 666.34,1106.5 666.54,1047.6 666.73,1077.0 666.92,1088.7 667.12,1108.2 667.31,1077.8 667.50,1101.4 667.69,1106.4 667.89,1099.6 668.08,1106.3 668.27,1133.7 668.47,1091.8 668.66,1139.9 668.85,1139.9 669.05,1104.5 669.24,1101.8 669.43,1095.7 669.63,1099.0 669.82,1083.1 670.01,1091.3 670.20,1111.5 670.40,1059.5 670.59,1097.3 670.78,1081.9 670.98,1063.0 671.17,1079.6 671.36,1031.0 671.56,1112.7 671.75,1100.0 671.94,1167.0 672.14,1059.6 672.33,1097.0 672.52,1125.3 672.71,1073.0 672.91,1119.3 673.10,1105.1 673.29,1082.3 673.49,1114.7 673.68,1108.4 673.87,1086.4 674.07,1099.4 674.26,1087.4 674.45,1113.1 674.65,1095.4 674.84,1116.3 675.03,1126.2 675.22,1056.1 675.42,1085.8 675.61,1079.6 675.80,1124.8 676.00,1109.9 676.19,1117.2 676.38,1144.0 676.58,1099.7 676.77,1121.4 676.96,1103.3 677.16,1124.0 677.35,1064.3 677.54,1065.6 677.73,1072.8 677.93,1103.4 678.12,1101.6 678.31,1072.0 678.51,1112.2 678.70,1107.9 678.89,1116.2 679.09,1147.4 679.28,1094.3 679.47,1165.4 679.67,1126.8 679.86,1135.4 680.05,1165.5 680.24,1127.2 680.44,1120.5 680.63,1125.6 680.82,1137.9 681.02,1103.5 681.21,1082.8 681.40,1096.7 681.60,1061.3 681.79,1078.4 681.98,1081.0 682.18,1070.4 682.37,1117.8 682.56,1117.9 682.75,1097.3 682.95,1096.4 683.14,1072.6 683.33,1076.4 683.53,1092.7 683.72,1087.8 683.91,1094.8 684.11,1093.9 684.30,1094.0 684.49,1064.3 684.69,1093.8 684.88,1092.5 685.07,1083.2 685.27,1099.9 685.46,1097.7 685.65,1144.6 685.84,1096.4 686.04,1117.7 686.23,1113.9 686.42,1011.0 686.62,1166.6 686.81,1079.3 687.00,1126.3 687.20,1122.8 687.39,1159.9 687.58,1103.0 687.78,1101.5 687.97,1112.3 688.16,1094.2 688.35,1067.4 688.55,1098.2 688.74,1108.7 688.93,1061.3 689.13,1085.9 689.32,1098.6 689.51,1049.8 689.71,1099.7 689.90,1111.2 690.09,1105.2 690.29,1121.7 690.48,1110.0 690.67,1111.8 690.86,1128.2 691.06,1117.9 691.25,1103.3 691.44,1098.7 691.64,1090.7 691.83,1081.8 692.02,1088.5 692.22,1078.7 692.41,1170.0 692.60,1090.2 692.80,1062.1 692.99,1127.2 693.18,1078.9 693.37,1032.4 693.57,1129.0 693.76,1057.7 693.95,1126.5 694.15,1080.0 694.34,1051.0 694.53,1051.5 694.73,1100.4 694.92,1106.5 695.11,1106.7 695.31,1057.8 695.50,1079.0 695.69,1069.2 695.88,1064.4 696.08,1063.7 696.27,1065.5 696.46,1080.3 696.66,1124.0 696.85,1064.6 697.04,1158.7 697.24,1075.9 697.43,1115.4 697.62,1104.5 697.82,1107.5 698.01,1099.8 698.20,1088.4 698.39,1090.8 698.59,1106.4 698.78,1063.9 698.97,1094.2 699.17,1053.1 699.36,1085.1 699.55,1097.1 699.75,1073.4 699.94,1065.1 700.13,1105.5 700.33,1093.9 700.52,1060.1 700.71,1116.0 700.90,1117.3 701.10,1100.2 701.29,1134.1 701.48,1160.6 701.68,1148.3 701.87,1103.5 702.06,1094.5 702.26,1091.3 702.45,1090.7 702.64,1121.1 702.84,1076.4 703.03,1063.7 703.22,1102.3 703.41,1067.0 703.61,1095.3 703.80,1083.5 703.99,1079.8 704.19,1119.8 704.38,1011.0 704.57,1108.8 704.77,1095.6 704.96,1107.6 705.15,1090.9 705.35,1094.8 705.54,1106.2 705.73,1078.2 705.92,1104.0 706.12,1119.4 706.31,1159.4 706.50,1116.8 706.70,1116.1 706.89,1126.7 707.08,1123.7 707.28,1088.6 707.47,1074.2 707.66,1051.3 707.86,1064.3 708.05,1102.8 708.24,1082.8 708.43,1119.7 708.63,1077.2 708.82,1087.2 709.01,1109.1 709.21,1098.4 709.40,1100.8 709.59,1108.0 709.79,1065.1 709.98,1031.4 710.17,1075.2 710.37,1072.1 710.56,1094.4 710.75,1108.4 710.94,1056.1 711.14,1112.0 711.33,1095.2 711.52,1104.6 711.72,1087.0 711.91,1098.6 712.10,1083.4 712.30,1122.8 712.49,1098.3 712.68,1067.5 712.88,1119.7 713.07,1112.0 713.26,1067.2 713.45,1085.5 713.65,1068.5 713.84,1136.4 714.03,1082.2 714.23,1109.8 714.42,1110.3 714.61,1070.4 714.81,1052.2 715.00,1107.0 715.19,1095.7 715.39,1081.5 715.58,1069.0 715.77,1092.6 715.96,1028.9 716.16,1050.6 716.35,1073.0 716.54,1079.6 716.74,1029.2 716.93,1029.2 717.12,1092.4 717.32,1078.2 717.51,1061.2 717.70,1115.9 717.90,1105.2 718.09,1065.2 718.28,1110.1 718.47,1105.5 718.67,1126.4 718.86,1115.0 719.05,1084.7 719.25,1117.4 719.44,1127.7 719.63,1113.5 719.83,1063.0 720.02,1098.8 720.21,1116.7 720.41,1103.4 720.60,1099.0 720.79,1107.4 720.98,1149.8 721.18,1105.3 721.37,1116.8 721.56,1094.4 721.76,1141.7 721.95,1090.4 722.14,1123.7 722.34,1149.5 722.53,1083.3 722.72,1121.2 722.92,1099.5 723.11,1107.5 723.30,1075.7 723.49,1069.9 723.69,1064.4 723.88,1068.2 724.07,1114.1 724.27,1112.2 724.46,1069.6 724.65,1093.4 724.85,1063.2 725.04,1071.7 725.23,1109.2 725.43,1105.2 725.62,1111.4 725.81,1110.4 726.00,1100.2 726.20,1085.9 726.39,1076.2 726.58,1129.4 726.78,1122.8 726.97,1077.7 727.16,1090.0 727.36,1100.3 727.55,1151.3 727.74,1117.8 727.94,1088.6 728.13,1102.5 728.32,1046.9 728.51,1089.7 728.71,1088.3 728.90,1121.2 729.09,1123.0 729.29,1117.2 729.48,1117.2 729.67,1107.8 729.87,1092.1 730.06,1091.6 730.25,1072.0 730.45,1120.3 730.64,1085.3 730.83,1084.8 731.02,1057.4 731.22,1099.9 731.41,1093.5 731.60,1124.3 731.80,1103.8 731.99,1109.3 732.18,1133.9 732.38,1129.5 732.57,1118.1 732.76,1100.6 732.96,1133.1 733.15,1085.1 733.34,1108.7 733.54,1060.0 733.73,1070.7 733.92,1113.0 734.11,1119.8 734.31,1054.9 734.50,1095.6 734.69,1096.8 734.89,1117.1 735.08,1109.0 735.27,1086.7 735.47,1088.5 735.66,1117.6 735.85,1071.2 736.05,1090.0 736.24,1116.2 736.43,1074.2 736.62,1100.9 736.82,1083.0 737.01,1115.5 737.20,1099.5 737.40,1146.1 737.59,1106.3 737.78,1149.5 737.98,1113.9 738.17,1163.9 738.36,1113.8 738.56,1092.9 738.75,1094.3 738.94,1075.4 739.13,1121.0 739.33,1060.7 739.52,1056.5 739.71,1113.8 739.91,1102.7 740.10,1095.7 740.29,1081.8 740.49,1075.9 740.68,1132.7 740.87,1067.5 741.07,1088.1 741.26,1107.4 741.45,1067.9 741.64,1098.0 741.84,1067.1 742.03,1080.2 742.22,1097.3 742.42,1062.5 742.61,1067.0 742.80,1091.2 743.00,1111.8 743.19,1087.0 743.38,1061.8 743.58,1081.7 743.77,1041.0 743.96,1077.2 744.15,1083.5 744.35,1084.3 744.54,1116.7 744.73,1103.7 744.93,1117.3 745.12,1154.5 745.31,1142.1 745.51,1087.4 745.70,1113.0 745.89,1106.0 746.09,1134.9 746.28,1114.7 746.47,1083.2 746.66,1095.1 746.86,1103.6 747.05,1051.3 747.24,1075.7 747.44,1068.7 747.63,1019.1 747.82,1066.0 748.02,994.1 748.21,1012.8 748.40,986.2 748.60,966.9 748.79,934.5 748.98,929.1 749.17,925.1 749.37,938.9 749.56,930.0 749.75,938.3 749.95,981.8 750.14,998.9 750.33,1041.5 750.53,1072.1 750.72,1046.1 750.91,1068.9 751.11,1058.7 751.30,1123.1 751.49,1027.4 751.68,1114.5 751.88,1084.7 752.07,1060.8 752.26,1108.0 752.46,1085.3 752.65,1113.5 752.84,1098.9 753.04,1109.9 753.23,1066.8 753.42,1065.5 753.62,1082.7 753.81,1052.8 754.00,1054.7 754.19,1089.3 754.39,1097.1 754.58,1099.7 754.77,1102.5 754.97,1059.3 755.16,1075.6 755.35,1077.7 755.55,1061.9 755.74,1027.8 755.93,1031.9 756.13,995.7 756.32,983.1 756.51,926.4 756.70,908.6 756.90,953.6 757.09,904.5 757.28,869.5 757.48,855.6 757.67,861.7 757.86,882.3 758.06,890.6 758.25,926.5 758.44,937.9 758.64,952.5 758.83,1018.3 759.02,1020.2 759.21,1036.3 759.41,987.2 759.60,1030.4 759.79,1039.1 759.99,1052.6 760.18,1075.8 760.37,1087.2 760.57,1057.1 760.76,1086.3 760.95,1043.6 761.15,1072.0 761.34,1072.5 761.53,1078.7 761.72,1076.7 761.92,1076.9 762.11,1047.5 762.30,1033.1 762.50,1112.5 762.69,1086.1 762.88,1080.6 763.08,1119.7 763.27,1117.4 763.46,1116.1 763.66,1156.6 763.85,1092.0 764.04,1104.6 764.23,1102.4 764.43,1095.7 764.62,1089.9 764.81,1043.8 765.01,1089.6 765.20,1076.3 765.39,1106.8 765.59,1088.9 765.78,1103.0 765.97,1097.5 766.17,1110.4 766.36,1104.2 766.55,1072.3 766.74,1061.8 766.94,1064.0 767.13,1084.5 767.32,1060.0 767.52,1120.0 767.71,1046.2 767.90,1071.3 768.10,1070.6 768.29,1058.2 768.48,1099.3 768.68,1075.6 768.87,1109.8 769.06,1090.2 769.25,1109.6 769.45,1091.0 769.64,1062.5 769.83,1105.1 770.03,1103.9 770.22,1099.0 770.41,1087.6 770.61,1037.5 770.80,1111.4 770.99,1145.1 771.19,1117.0 771.38,1137.9 771.57,1116.1 771.76,1102.8 771.96,1121.5 772.15,1112.0 772.34,1133.4 772.54,1085.0 772.73,1100.5 772.92,1056.9 773.12,1055.2 773.31,1096.3 773.50,1087.8 773.70,1083.1 773.89,1073.8 774.08,1132.5 774.27,1103.9 774.47,1066.2 774.66,1109.9 774.85,1103.0 775.05,1106.3 775.24,1130.2 775.43,1082.6 775.63,1096.4 775.82,1098.9 776.01,1087.3 776.21,1086.6 776.40,1145.2 776.59,1095.6 776.78,1119.3 776.98,1102.7 777.17,1119.5 777.36,1119.9 777.56,1076.9 777.75,1093.4 777.94,1095.6 778.14,1092.0 778.33,1080.6 778.52,1080.0 778.72,1128.6 778.91,1096.4 779.10,1084.0 779.29,1064.4 779.49,1052.1 779.68,1101.2 779.87,1038.5 780.07,1077.0 780.26,1069.0 780.45,1093.5 780.65,1099.3 780.84,1060.1 781.03,1099.9 781.23,1101.1 781.42,1076.6 781.61,1065.7 781.81,1135.2 782.00,1106.2 782.19,1101.7 782.38,1062.7 782.58,1050.7 782.77,1108.2 782.96,1101.7 783.16,1091.5 783.35,1082.1 783.54,1106.8 783.74,1068.7 783.93,1087.0 784.12,1102.3 784.32,1057.2 784.51,993.4 784.70,952.4 784.89,999.8 785.09,964.8 785.28,897.5 785.47,952.1 785.67,854.9 785.86,863.9 786.05,843.9 786.25,871.5 786.44,866.0 786.63,866.4 786.83,893.0 787.02,929.9 787.21,945.7 787.40,949.7 787.60,989.0 787.79,1011.5 787.98,1061.4 788.18,1030.7 788.37,1051.8 788.56,1021.4 788.76,1070.5 788.95,1078.4 789.14,1094.4 789.34,1068.3 789.53,1090.7 789.72,1103.1 789.91,1054.4 790.11,1051.5 790.30,1101.2 790.49,1115.7 790.69,1071.4 790.88,1115.8 791.07,1040.8 791.27,1104.7 791.46,1081.2 791.65,1128.2 791.85,1098.2 792.04,1070.6 792.23,1081.5 792.42,1150.0 792.62,1035.3 792.81,1072.7 793.00,1094.4 793.20,1103.1 793.39,1095.6 793.58,1059.3 793.78,1103.3 793.97,1083.9 794.16,1099.9 794.36,1052.8 794.55,1081.0 794.74,1056.6 794.93,1061.3 795.13,1084.5 795.32,1054.9 795.51,1047.8 795.71,1091.7 795.90,1052.2 796.09,1025.6 796.29,1078.5 796.48,1062.0 796.67,1108.9 796.87,1074.5 797.06,1101.0 797.25,1074.5 797.44,1093.9 797.64,1118.9 797.83,1069.4 798.02,1097.6 798.22,1114.7 798.41,1091.3 798.60,1114.5 798.80,1086.2 798.99,1097.1 799.18,1103.4 799.38,1078.9 799.57,1117.1 799.76,1062.5 799.95,1120.1 800.15,1035.8 800.34,1062.5 800.53,1070.6 800.73,1081.8 800.92,1056.6 801.11,1076.1 801.31,1081.4 801.50,1059.1 801.69,1093.3 801.89,1090.2 802.08,1076.1 802.27,1061.8 802.46,1087.9 802.66,1082.0 802.85,1086.6 803.04,1074.5 803.24,1061.3 803.43,1116.1 803.62,1100.2 803.82,1099.1 804.01,1085.5 804.20,1065.8 804.40,1098.8 804.59,1094.7 804.78,1076.6 804.97,1130.3 805.17,1121.8 805.36,1115.5 805.55,1104.7 805.75,1096.0 805.94,1107.2 806.13,1052.6 806.33,1101.0 806.52,1086.2 806.71,1055.7 806.91,1061.5 807.10,1079.2 807.29,1072.8 807.48,1066.0 807.68,1087.3 807.87,1076.0 808.06,1112.6 808.26,1092.6 808.45,1130.4 808.64,1114.2 808.84,1118.6 809.03,1064.7 809.22,1099.6 809.42,1081.1 809.61,1019.0 809.80,1089.1 809.99,1090.5 810.19,1104.3 810.38,1069.2 810.57,1127.1 810.77,1081.8 810.96,1042.7 811.15,1123.6 811.35,1109.9 811.54,1147.8 811.73,1115.8 811.93,1151.7 812.12,1096.8 812.31,1116.3 812.50,1141.0 812.70,1125.3 812.89,1130.3 813.08,1103.6 813.28,1083.3 813.47,1116.6 813.66,1139.7 813.86,1137.2 814.05,1119.0 814.24,1162.7 814.44,1105.5 814.63,1104.9 814.82,1162.3 815.01,1078.7 815.21,1136.6 815.40,1103.6 815.59,1072.8 815.79,1134.7 815.98,1140.1 816.17,1125.0 816.37,1124.9 816.56,1105.3 816.75,1115.2 816.95,1116.5 817.14,1118.4 817.33,1113.4 817.52,1154.0 817.72,1100.7 817.91,1105.2 818.10,1123.9 818.30,1058.5 818.49,1123.1 818.68,1077.2 818.88,1107.8 819.07,1082.2 819.26,1077.0 819.46,1067.6 819.65,1052.6 819.84,1098.6 820.03,1031.1 820.23,1066.8 820.42,1094.2 820.61,1108.7 820.81,1031.6 821.00,1051.3 821.19,1092.0 821.39,1078.0 821.58,1066.5 821.77,1092.3 821.97,1102.6 822.16,1093.7 822.35,1075.1 822.54,1094.4 822.74,1124.2 822.93,1083.6 823.12,1140.2 823.32,1120.7 823.51,1077.9 823.70,1098.4 823.90,1095.5 824.09,1094.5 824.28,1071.2 824.48,1093.9 824.67,1137.0 824.86,1092.0 825.05,1162.6 825.25,1149.4 825.44,1073.5 825.63,1088.4 825.83,1122.6 826.02,1113.2 826.21,1107.0 826.41,1083.4 826.60,1118.7 826.79,1117.5 826.99,1109.3 827.18,1091.4 827.37,1088.3 827.56,1102.6 827.76,1077.5 827.95,1116.8 828.14,1095.7 828.34,1107.9 828.53,1112.7 828.72,1061.5 828.92,1093.1 829.11,1105.9 829.30,1081.1 829.50,1103.7 829.69,1070.2 829.88,1067.1 830.08,1065.8 830.27,1113.9 830.46,1096.1 830.65,1053.7 830.85,1098.6 831.04,1064.2 831.23,1055.2 831.43,1114.6 831.62,1053.5 831.81,1060.4 832.01,1056.4 832.20,1039.5 832.39,1069.4 832.59,1082.3 832.78,1076.4 832.97,1103.4 833.16,1090.3 833.36,1149.0 833.55,1067.8 833.74,1116.3 833.94,1015.0 834.13,1092.7 834.32,1094.8 834.52,1092.5 834.71,1092.5 834.90,1129.8 835.10,1106.1 835.29,1068.3 835.48,1117.0 835.67,1117.3 835.87,1047.2 836.06,1066.3 836.25,1057.5 836.45,1091.1 836.64,1084.3 836.83,1073.2 837.03,1077.6 837.22,1092.2 837.41,1123.2 837.61,1108.5 837.80,1127.3 837.99,1062.0 838.18,1107.7 838.38,1104.6 838.57,1094.6 838.76,1098.6 838.96,1084.0 839.15,1105.1 839.34,1121.1 839.54,1047.0 839.73,1100.7 839.92,1097.0 840.12,1106.8 840.31,1104.8 840.50,1095.6 840.69,1082.1 840.89,1123.1 841.08,1094.0 841.27,1114.5 841.47,1072.6 841.66,1164.0 841.85,1094.7 842.05,1080.7 842.24,1125.7 842.43,1092.8 842.63,1090.5 842.82,1109.6 843.01,1095.7 843.20,1068.2 843.40,1083.7 843.59,1098.0 843.78,1094.2 843.98,1081.0 844.17,1063.9 844.36,1074.5 844.56,1075.8 844.75,1057.2 844.94,1124.3 845.14,1121.4 845.33,1140.1 845.52,1074.2 845.71,1144.4 845.91,1097.2 846.10,1081.5 846.29,1130.0 846.49,1115.0 846.68,1106.6 846.87,1084.7 847.07,1133.3 847.26,1092.9 847.45,1084.7 847.65,1097.1 847.84,1096.4 848.03,1070.6 848.22,1088.9 848.42,1086.9 848.61,1083.9 848.80,1050.5 849.00,1059.0 849.19,1023.8 849.38,1022.1 849.58,983.9 849.77,1014.7 849.96,980.8 850.16,960.7 850.35,945.4 850.54,916.7 850.73,920.0 850.93,929.2 851.12,925.2 851.31,911.5 851.51,936.5 851.70,950.4 851.89,929.1 852.09,943.4 852.28,939.7 852.47,964.3 852.67,942.5 852.86,958.4 853.05,1025.4 853.24,1005.0 853.44,1029.2 853.63,1061.9 853.82,1026.5 854.02,1052.3 854.21,1046.4 854.40,1007.0 854.60,1035.9 854.79,1042.4 854.98,1075.2 855.18,1090.0 855.37,1033.1 855.56,1062.7 855.75,1050.3 855.95,1055.2 856.14,1041.9 856.33,994.8 856.53,1048.4 856.72,1046.0 856.91,1032.5 857.11,1025.9 857.30,1052.5 857.49,1055.8 857.69,1014.3 857.88,986.5 858.07,975.3 858.26,949.4 858.46,910.4 858.65,852.3 858.84,793.3 859.04,776.2 859.23,680.9 859.42,583.6 859.62,523.2 859.81,485.9 860.00,377.2 860.20,294.0 860.39,203.8 860.58,240.6 860.77,164.4 860.97,148.0 861.16,152.6 861.35,171.1 861.55,278.5 861.74,340.5 861.93,388.8 862.13,436.7 862.32,552.2 862.51,650.9 862.71,698.1 862.90,732.0 863.09,770.5 863.28,867.2 863.48,907.1 863.67,940.5 863.86,969.4 864.06,1012.2 864.25,1018.4 864.44,1016.3 864.64,1027.4 864.83,1034.5 865.02,1060.3 865.22,1051.6 865.41,1056.4 865.60,1019.0 865.79,1012.2 865.99,1038.4 866.18,1011.5 866.37,1052.6 866.57,1049.9 866.76,1066.2 866.95,1021.0 867.15,1019.7 867.34,985.1 867.53,949.6 867.73,937.9 867.92,928.8 868.11,870.8 868.30,842.6 868.50,817.0 868.69,829.0 868.88,810.9 869.08,819.3 869.27,826.3 869.46,836.9 869.66,900.7 869.85,954.9 870.04,973.4 870.24,980.5 870.43,991.9 870.62,974.0 870.81,1046.9 871.01,1047.9 871.20,1066.3 871.39,1062.1 871.59,1076.7 871.78,1096.2 871.97,1056.4 872.17,1079.9 872.36,1058.2 872.55,1099.1 872.75,1085.7 872.94,1080.3 873.13,1137.1 873.32,1127.4 873.52,1084.5 873.71,1098.9 873.90,1140.9 874.10,1118.7 874.29,1126.5 874.48,1114.7 874.68,1070.7 874.87,1113.2 875.06,1054.9 875.26,1100.8 875.45,1109.0 875.64,1058.7 875.83,1071.5 876.03,1063.0 876.22,1052.9 876.41,1075.4 876.61,1077.4 876.80,1145.5 876.99,1131.3 877.19,1107.9 877.38,1114.7 877.57,1103.8 877.77,1128.0 877.96,1091.7 878.15,1068.8 878.35,1095.0 878.54,1085.7 878.73,1089.7 878.92,1079.0 879.12,1093.1 879.31,1107.2 879.50,1090.6 879.70,1089.8 879.89,1122.0 880.08,1083.1 880.28,1087.3 880.47,1084.3 880.66,1101.9 880.86,1082.0 881.05,1081.1 881.24,1110.7 881.43,1089.4 881.63,1079.5 881.82,1079.4 882.01,1113.8 882.21,1116.0 882.40,1095.2 882.59,1120.5 882.79,1048.2 882.98,1120.5 883.17,1121.4 883.37,1090.7 883.56,1113.0 883.75,1150.3 883.94,1101.3 884.14,1117.3 884.33,1106.6 884.52,1129.5 884.72,1115.1 884.91,1100.8 885.10,1100.1 885.30,1121.7 885.49,1111.0 885.68,1109.9 885.88,1084.1 886.07,1085.1 886.26,1103.2 886.45,1059.0 886.65,1085.1 886.84,1061.6 887.03,1090.5 887.23,1067.9 887.42,1081.3 887.61,1082.5 887.81,1077.4 888.00,1082.3 888.19,1090.7 888.39,1093.2 888.58,1126.2 888.77,1103.3 888.96,1150.3 889.16,1153.5 889.35,1115.3 889.54,1115.6 889.74,1081.0 889.93,1100.0 890.12,1092.1 890.32,1123.5 890.51,1109.0 890.70,1094.6 890.90,1108.3 891.09,1110.9 891.28,1112.9 891.47,1129.3 891.67,1121.9 891.86,1125.7 892.05,1078.7 892.25,1085.2 892.44,1087.8 892.63,1063.5 892.83,1084.4 893.02,1054.1 893.21,1041.6 893.41,1079.5 893.60,1110.6 893.79,1133.0 893.98,1060.4 894.18,1093.0 894.37,1122.5 894.56,1062.8 894.76,1108.6 894.95,1065.2 895.14,1044.5 895.34,1033.1 895.53,1039.5 895.72,1024.1 895.92,1000.6 896.11,1006.7 896.30,1008.5 896.49,1054.2 896.69,1040.2 896.88,1033.7 897.07,1028.5 897.27,1067.9 897.46,1063.6 897.65,1089.4 897.85,1078.3 898.04,1150.7 898.23,1088.4 898.43,1115.2 898.62,1112.9 898.81,1158.3 899.00,1117.0 899.20,1078.4 899.39,1040.7 899.58,1104.7 899.78,1105.1 899.97,1082.9 900.16,1089.4 900.36,1109.3 900.55,1101.0 900.74,1105.7 900.94,1084.1 901.13,1079.7 901.32,1058.2 901.51,1074.8 901.71,1078.6 901.90,1087.8 902.09,1069.1 902.29,1107.7 902.48,1038.8 902.67,1077.3 902.87,1053.7 903.06,1103.3 903.25,1069.0 903.45,1087.5 903.64,1104.5 903.83,1118.3 904.02,1125.5 904.22,1070.6 904.41,1084.8 904.60,1110.6 904.80,1111.4 904.99,1133.8 905.18,1160.0 905.38,1161.2 905.57,1137.1 905.76,1126.5 905.96,1145.2 906.15,1099.4 906.34,1101.5 906.53,1105.9 906.73,1144.3 906.92,1109.5 907.11,1104.3 907.31,1129.6 907.50,1148.3 907.69,1161.0 907.89,1086.7 908.08,1109.0 908.27,1069.0 908.47,1082.2 908.66,1098.9 908.85,1105.1 909.04,1093.6 909.24,1078.5 909.43,1107.1 909.62,1112.5 909.82,1094.8 910.01,1164.7 910.20,1104.6 910.40,1114.3 910.59,1104.4 910.78,1105.3 910.98,1090.2 911.17,1090.5 911.36,1087.1 911.55,1088.9 911.75,1076.6 911.94,1099.6 912.13,1071.5 912.33,1132.2 912.52,1095.8 912.71,1093.8 912.91,1133.4 913.10,1117.7 913.29,1081.4 913.49,1113.0 913.68,1128.9 913.87,1165.8 914.06,1102.0 914.26,1107.1 914.45,1096.2 914.64,1065.3 914.84,1108.4 915.03,1104.2 915.22,1120.3 915.42,1105.2 915.61,1101.9 915.80,1082.0 916.00,1083.4 916.19,1109.3 916.38,1101.9 916.57,1061.8 916.77,1111.0 916.96,1074.1 917.15,1055.1 917.35,1075.8 917.54,1085.0 917.73,1063.4 917.93,1088.8 918.12,1101.5 918.31,1110.9 918.51,1087.3 918.70,1100.9 918.89,1084.7 919.08,1124.3 919.28,1121.3 919.47,1120.3 919.66,1101.5 919.86,1119.4 920.05,1083.5 920.24,1096.3 920.44,1125.6 920.63,1166.3 920.82,1144.2 921.02,1072.9 921.21,1102.0 921.40,1094.5 921.59,1103.7 921.79,1083.1 921.98,1129.3 922.17,1127.9 922.37,1116.6 922.56,1076.1 922.75,1057.6 922.95,1057.2 923.14,1065.2 923.33,1086.3 923.53,1040.7 923.72,1065.2 923.91,1064.1 924.10,1071.9 924.30,1088.2 924.49,1101.7 924.68,1106.2 924.88,1127.1 925.07,1098.1 925.26,1108.8 925.46,1083.8 925.65,1144.2 925.84,1080.4 926.04,1106.8 926.23,1109.1 926.42,1123.5 926.62,1124.4 926.81,1139.1 927.00,1087.4 927.19,1110.0 927.39,1088.8 927.58,1085.0 927.77,1111.4 927.97,1102.8 928.16,1101.1 928.35,1066.5 928.55,1079.7 928.74,1071.6 928.93,1050.9 929.13,1058.6 929.32,1000.6 929.51,1055.6 929.70,995.1 929.90,1003.5 930.09,1029.6 930.28,995.5 930.48,1009.4 930.67,1005.7 930.86,980.6 931.06,986.3 931.25,1022.3 931.44,1016.1 931.64,985.5 931.83,1031.4 932.02,1088.6 932.21,1077.8 932.41,1080.7 932.60,1042.0 932.79,1088.5 932.99,1115.1 933.18,1063.9 933.37,1087.9 933.57,1089.0 933.76,1114.2 933.95,1064.8 934.15,1094.4 934.34,1129.2 934.53,1105.9 934.72,1094.3 934.92,1075.6 935.11,1053.9 935.30,1086.3 935.50,1086.4 935.69,1031.4 935.88,1082.5 936.08,1100.3 936.27,1091.0 936.46,1118.8 936.66,1079.0 936.85,1066.2 937.04,1094.9 937.23,1057.4 937.43,1082.5 937.62,1069.6 937.81,1093.7 938.01,1099.3 938.20,1119.7 938.39,1088.7 938.59,1104.0 938.78,1106.0 938.97,1125.9 939.17,1127.1 939.36,1115.3 939.55,1091.0 939.74,1094.3 939.94,1115.8 940.13,1095.8 940.32,1066.0 940.52,1102.6 940.71,1062.7 940.90,1096.9 941.10,1077.5 941.29,1115.7 941.48,1077.1 941.68,1124.4 941.87,1090.1 942.06,1097.9 942.25,1129.1 942.45,1112.5 942.64,1057.7 942.83,1071.9 943.03,1056.9 943.22,1083.8 943.41,1154.5 943.61,1092.4 943.80,1113.8 943.99,1114.6 944.19,1114.1 944.38,1120.4 944.57,1123.5 944.76,1075.1 944.96,1090.8 945.15,1113.8 945.34,1109.2 945.54,1081.0 945.73,1095.6 945.92,1159.0 946.12,1134.4 946.31,1119.3 946.50,1135.2 946.70,1152.1 946.89,1091.8 947.08,1117.1 947.27,1118.1 947.47,1129.5 947.66,1093.8 947.85,1067.1 948.05,1101.7 948.24,1096.6 948.43,1144.4 948.63,1114.7 948.82,1113.4 949.01,1085.2 949.21,1115.2 949.40,1134.1 949.59,1114.1 949.78,1120.3 949.98,1078.2 950.17,1092.9 950.36,1098.1 950.56,1100.1 950.75,1084.6 950.94,1111.5 951.14,1118.7 951.33,1136.9 951.52,1069.2 951.72,1081.8 951.91,1077.3 952.10,1089.1 952.29,1054.2 952.49,1111.6 952.68,1067.4 952.87,1113.9 953.07,1107.6 953.26,1124.2 953.45,1094.9 953.65,1100.7 953.84,1082.7 954.03,1102.3 954.23,1118.4 954.42,1076.7 954.61,1062.9 954.80,1077.4 955.00,1097.6 955.19,1090.8 955.38,1137.4 955.58,1108.5 955.77,1075.9 955.96,1089.6 956.16,1115.5 956.35,1075.6 956.54,1092.8 956.74,1070.7 956.93,1113.0 957.12,1091.9 957.31,1072.7 957.51,1074.1 957.70,1072.2 957.89,1089.9 958.09,1101.0 958.28,1094.5 958.47,1093.7 958.67,1150.9 958.86,1129.3 959.05,1128.4 959.25,1120.8 959.44,1101.2 959.63,1148.7 959.82,1106.8 960.02,1153.8 960.21,1132.4 960.40,1127.0 960.60,1121.4 960.79,1128.6 960.98,1160.0 961.18,1121.2 961.37,1117.3 961.56,1147.5 961.76,1134.3 961.95,1109.9 962.14,1085.2 962.33,1071.1 962.53,1031.3 962.72,1083.7 962.91,1101.5 963.11,1081.1 963.30,1071.8 963.49,1085.8 963.69,1115.0 963.88,1098.6 964.07,1100.9 964.27,1132.6 964.46,1130.0 964.65,1079.0 964.84,1150.9 965.04,1098.0 965.23,1105.3 965.42,1068.5 965.62,1083.2 965.81,1113.3 966.00,1068.2 966.20,1108.2 966.39,1056.1 966.58,1065.5 966.78,1105.0 966.97,1090.6 967.16,1107.3 967.35,1133.8 967.55,1094.5 967.74,1108.8 967.93,1097.8 968.13,1088.2 968.32,1073.8 968.51,1073.6 968.71,1089.2 968.90,1078.4 969.09,1067.0 969.29,1077.7 969.48,1083.6 969.67,1045.5 969.86,1082.1 970.06,1060.1 970.25,1123.5 970.44,1112.3 970.64,1122.3 970.83,1121.0 971.02,1117.3 971.22,1111.8 971.41,1117.0 971.60,1069.3 971.80,1093.9 971.99,1125.5 972.18,1122.2 972.37,1094.5 972.57,1097.3 972.76,1119.4 972.95,1084.3 973.15,1132.0 973.34,1110.9 973.53,1065.4 973.73,1159.3 973.92,1111.2 974.11,1088.6 974.31,1114.3 974.50,1128.0 974.69,1128.7 974.89,1150.2 975.08,1129.1 975.27,1094.9 975.46,1105.5 975.66,1093.0 975.85,1096.7 976.04,1088.7 976.24,1130.2 976.43,1101.0 976.62,1100.3 976.82,1097.6 977.01,1107.0 977.20,1131.4 977.40,1068.2 977.59,1061.5 977.78,1030.3 977.97,1064.0 978.17,1047.8 978.36,1073.1 978.55,1096.8 978.75,1081.1 978.94,1118.8 979.13,1091.8 979.33,1102.2 979.52,1124.3 979.71,1076.7 979.91,1077.9 980.10,1089.6 980.29,1079.1 980.48,1058.8 980.68,1094.7 980.87,1120.0 981.06,1112.3 981.26,1079.1 981.45,1091.1 981.64,1129.4 981.84,1071.4 982.03,1095.8 982.22,1066.3 982.42,1075.4 982.61,1106.9 982.80,1094.5 982.99,1111.5 983.19,1113.8 983.38,1102.7 983.57,1085.9 983.77,1067.3 983.96,1115.1 984.15,1082.3 984.35,1099.0 984.54,1108.8 984.73,1085.6 984.93,1121.5 985.12,1086.8 985.31,1121.9 985.50,1130.0 985.70,1087.0 985.89,1126.1 986.08,1112.7 986.28,1085.3 986.47,1077.6 986.66,1082.4 986.86,1120.3 987.05,1110.5 987.24,1075.5 987.44,1078.0 987.63,1112.0 987.82,1084.0 988.01,1083.6 988.21,1065.0 988.40,1101.2 988.59,1054.3 988.79,1091.4 988.98,1054.1 989.17,1065.3 989.37,1107.1 989.56,1093.9 989.75,1083.7 989.95,1070.8 990.14,1123.9 990.33,1106.7 990.52,1084.1 990.72,1088.1 990.91,1121.4 991.10,1119.2 991.30,1092.4 991.49,1125.0 991.68,1100.4 991.88,1088.2 992.07,1109.4 992.26,1163.4 992.46,1084.9 992.65,1082.3 992.84,1071.7 993.03,1077.8 993.23,1126.5 993.42,1056.3 993.61,1077.0 993.81,1064.6 994.00,1090.2 994.19,1095.7 994.39,1099.6 994.58,1064.5 994.77,1095.8 994.97,1108.6 995.16,1133.8 995.35,1098.7 995.54,1110.9 995.74,1110.2 995.93,1094.1 996.12,1099.9 996.32,1114.2 996.51,1107.2 996.70,1106.0 996.90,1087.5 997.09,1082.4 997.28,1088.9 997.48,1106.2 997.67,1067.8 997.86,1065.4 998.05,1106.9 998.25,1075.5 998.44,1091.2 998.63,1129.1 998.83,1084.8 999.02,1067.1 999.21,1108.1 999.41,1113.8 999.60,1083.3 999.79,1133.6 999.99,1133.8 1000.18,1121.7 1000.37,1100.1 1000.56,1096.4 1000.76,1116.2 1000.95,1106.3 1001.14,1093.2 1001.34,1100.4 1001.53,1108.9 1001.72,1112.8 1001.92,1073.6 1002.11,1092.9 1002.30,1030.1 1002.50,1074.3 1002.69,1104.1 1002.88,1088.8 1003.07,1082.5 1003.27,1082.2 1003.46,1081.6 1003.65,1081.2 1003.85,1093.4 1004.04,1076.4 1004.23,1042.8 1004.43,1097.2 1004.62,1093.9 1004.81,1068.1 1005.01,1053.5 1005.20,1059.3 1005.39,1047.7 1005.58,1072.8 1005.78,1076.1 1005.97,1057.7 1006.16,1059.1 1006.36,1039.7 1006.55,1043.2 1006.74,1115.8 1006.94,1052.6 1007.13,1075.2 1007.32,1094.3 1007.52,1020.5 1007.71,1014.7 1007.90,1000.6 1008.09,1006.8 1008.29,988.5 1008.48,962.7 1008.67,952.2 1008.87,966.6 1009.06,972.7 1009.25,993.1 1009.45,997.6 1009.64,1021.2 1009.83,1059.6 1010.03,1067.6 1010.22,1050.4 1010.41,1039.5 1010.60,1063.7 1010.80,1082.9 1010.99,1072.4 1011.18,1118.7 1011.38,1103.7 1011.57,1091.8 1011.76,1085.4 1011.96,1090.8 1012.15,1089.7 1012.34,1109.8 1012.54,1098.0 1012.73,1082.9 1012.92,1131.1 1013.11,1121.3 1013.31,1106.6 1013.50,1070.0 1013.69,1088.3 1013.89,1068.9 1014.08,1071.4 1014.27,1105.8 1014.47,1093.4 1014.66,1112.6 1014.85,1058.7 1015.05,1065.5 1015.24,1067.4 1015.43,1066.7 1015.62,1072.7 1015.82,1079.7 1016.01,1079.3 1016.20,1060.1 1016.40,1102.9 1016.59,1107.9 1016.78,1084.7 1016.98,1059.8 1017.17,1080.2 1017.36,1091.6 1017.56,1072.8 1017.75,1092.9 1017.94,1141.1 1018.13,1126.9 1018.33,1153.6 1018.52,1115.7 1018.71,1120.3 1018.91,1099.7 1019.10,1061.1 1019.29,1115.4 1019.49,1100.0 1019.68,1107.0 1019.87,1158.6 1020.07,1116.0 1020.26,1116.9 1020.45,1097.6 1020.64,1122.4 1020.84,1132.1 1021.03,1090.9 1021.22,1101.7 1021.42,1114.8 1021.61,1107.2 1021.80,1093.7 1022.00,1067.5 1022.19,1053.4 1022.38,1112.0 1022.58,1062.3 1022.77,1090.0 1022.96,1087.8 1023.16,1078.8 1023.35,1122.8 1023.54,1085.6 1023.73,1131.7 1023.93,1112.7 1024.12,1119.4 1024.31,1065.2 1024.51,1067.0 1024.70,1086.8 1024.89,1092.8 1025.09,1115.3 1025.28,1065.9 1025.47,1070.7 1025.67,1078.0 1025.86,1096.2 1026.05,1097.9 1026.24,1089.3 1026.44,1057.2 1026.63,1105.1 1026.82,1083.9 1027.02,1155.0 1027.21,1072.9 1027.40,1057.1 1027.60,1087.4 1027.79,1089.4 1027.98,1071.6 1028.18,1089.3 1028.37,1097.9 1028.56,1117.1 1028.75,1137.8 1028.95,1074.8 1029.14,1115.6 1029.33,1123.4 1029.53,1090.2 1029.72,1128.1 1029.91,1138.2 1030.11,1120.9 1030.30,1107.9 1030.49,1097.3 1030.69,1088.3 1030.88,1075.1 1031.07,1095.7 1031.26,1084.3 1031.46,1094.4 1031.65,1107.1 1031.84,1088.0 1032.04,1092.4 1032.23,1064.1 1032.42,1093.8 1032.62,1123.4 1032.81,1096.7 1033.00,1113.9 1033.20,1074.0 1033.39,1141.6 1033.58,1117.0 1033.77,1113.5 1033.97,1092.7 1034.16,1093.0 1034.35,1118.8 1034.55,1120.3 1034.74,1074.6 1034.93,1046.9 1035.13,1048.1 1035.32,1088.7 1035.51,1072.6 1035.71,1103.1 1035.90,1118.3 1036.09,1065.0 1036.28,1079.3 1036.48,1103.0 1036.67,1105.9 1036.86,1080.2 1037.06,1093.6 1037.25,1108.6 1037.44,1096.3 1037.64,1101.7 1037.83,1107.9 1038.02,1111.9 1038.22,1075.0 1038.41,1102.5 1038.60,1116.5 1038.79,1053.9 1038.99,1067.1 1039.18,1084.3 1039.37,1098.0 1039.57,1092.7 1039.76,1127.0 1039.95,1096.5 1040.15,1089.2 1040.34,1097.9 1040.53,1083.8 1040.73,1109.0 1040.92,1089.6 1041.11,1128.1 1041.30,1098.1 1041.50,1112.8 1041.69,1129.6 1041.88,1111.1 1042.08,1102.6 1042.27,1115.2 1042.46,1082.4 1042.66,1115.1 1042.85,1078.9 1043.04,1081.3 1043.24,1107.7 1043.43,1064.2 1043.62,1123.3 1043.81,1085.4 1044.01,1097.6 1044.20,1085.5 1044.39,1135.8 1044.59,1127.6 1044.78,1117.4 1044.97,1095.1 1045.17,1088.8 1045.36,1085.9 1045.55,1088.9 1045.75,1097.6 1045.94,1112.8 1046.13,1095.6 1046.32,1078.8 1046.52,1071.1 1046.71,1104.0 1046.90,1070.6 1047.10,1119.5 1047.29,1072.8 1047.48,1110.3 1047.68,1081.8 1047.87,1106.8 1048.06,1107.5 1048.26,1100.0 1048.45,1061.2 1048.64,1107.7 1048.83,1084.4 1049.03,1098.5 1049.22,1099.6 1049.41,1102.3 1049.61,1032.4 1049.80,1133.2 1049.99,1103.2 1050.19,1091.4 1050.38,1104.9 1050.57,1080.0 1050.77,1105.5 1050.96,1068.9 1051.15,1100.8 1051.34,1095.6 1051.54,1077.6 1051.73,1076.1 1051.92,1114.0 1052.12,1118.0 1052.31,1085.5 1052.50,1165.3 1052.70,1077.3 1052.89,1076.6 1053.08,1122.9 1053.28,1072.2 1053.47,1085.6 1053.66,1079.6 1053.85,1133.7 1054.05,1093.4 1054.24,1087.3 1054.43,1094.4 1054.63,1099.0 1054.82,1103.8 1055.01,1165.3 1055.21,1117.0 1055.40,1132.8 1055.59,1122.9 1055.79,1131.3 1055.98,1118.4 1056.17,1108.4 1056.36,1073.1 1056.56,1124.0 1056.75,1069.3 1056.94,1108.0 1057.14,1121.0 1057.33,1132.7 1057.52,1085.1 1057.72,1134.9 1057.91,1083.8 1058.10,1094.5 1058.30,1112.0 1058.49,1111.7 1058.68,1084.6 1058.87,1088.1 1059.07,1072.0 1059.26,1083.5 1059.45,1090.7 1059.65,1066.4 1059.84,1101.2 1060.03,1058.6 1060.23,1076.4 1060.42,1103.5 1060.61,1105.1 1060.81,1094.1 1061.00,1127.9 1061.19,1062.7 1061.38,1072.7 1061.58,1116.7 1061.77,1097.6 1061.96,1061.8 1062.16,1090.8 1062.35,1122.8 1062.54,1149.4 1062.74,1141.3 1062.93,1083.6 1063.12,1101.2 1063.32,1131.9 1063.51,1084.6 1063.70,1101.4 1063.89,1102.9 1064.09,1096.5 1064.28,1094.3 1064.47,1050.5 1064.67,1107.8 1064.86,1099.6 1065.05,1066.4 1065.25,1065.7 1065.44,1120.0 1065.63,1057.1 1065.83,1077.8 1066.02,1132.9 1066.21,1064.9 1066.40,1135.2 1066.60,1091.1 1066.79,1130.5 1066.98,1144.0 1067.18,1087.9 1067.37,1095.0 1067.56,1102.6 1067.76,1093.3 1067.95,1096.2 1068.14,1096.6 1068.34,1111.6 1068.53,1076.8 1068.72,1090.6 1068.91,1099.8 1069.11,1111.2 1069.30,1109.5 1069.49,1138.8 1069.69,1115.1 1069.88,1129.6 1070.07,1080.8 1070.27,1125.8 1070.46,1112.6 1070.65,1099.9 1070.85,1081.0 1071.04,1086.8 1071.23,1096.5 1071.43,1052.9 1071.62,1101.2 1071.81,1097.8 1072.00,1052.1 1072.20,1134.9 1072.39,1103.8 1072.58,1123.3 1072.78,1168.1 1072.97,1159.1 1073.16,1131.3 1073.36,1170.3 1073.55,1152.6 1073.74,1127.1 1073.94,1148.7 1074.13,1134.5 1074.32,1150.1 1074.51,1145.4 1074.71,1141.4 1074.90,1131.9 1075.09,1106.5 1075.29,1112.2 1075.48,1065.1 1075.67,1087.7 1075.87,1087.8 1076.06,1043.4 1076.25,1092.7 1076.45,1109.1 1076.64,1091.7 1076.83,1120.7 1077.02,1089.3 1077.22,1072.6 1077.41,1087.6 1077.60,1107.9 1077.80,1099.5 1077.99,1083.4 1078.18,1066.9 1078.38,1100.0 1078.57,1102.4 1078.76,1074.9 1078.96,1098.4 1079.15,1101.0 1079.34,1101.9 1079.53,1130.7 1079.73,1118.2 1079.92,1092.1 1080.11,1116.3 1080.31,1114.9 1080.50,1101.8 1080.69,1097.0 1080.89,1048.8 1081.08,1116.7 1081.27,1096.3 1081.47,1058.3 1081.66,1102.8 1081.85,1099.6 1082.04,1142.4 1082.24,1095.2 1082.43,1099.7 1082.62,1101.7 1082.82,1122.0 1083.01,1170.0 1083.20,1112.9 1083.40,1089.2 1083.59,1103.8 1083.78,1084.7 1083.98,1127.5 1084.17,1104.2 1084.36,1154.5 1084.55,1095.0 1084.75,1073.0 1084.94,1092.6 1085.13,1043.0 1085.33,1109.8 1085.52,1099.9 1085.71,1117.4 1085.91,1114.1 1086.10,1118.1 1086.29,1141.8 1086.49,1132.0 1086.68,1067.8 1086.87,1113.6 1087.06,1086.3 1087.26,1130.2 1087.45,1105.5 1087.64,1092.8 1087.84,1109.9 1088.03,1120.0 1088.22,1115.6 1088.42,1112.0 1088.61,1094.6 1088.80,1085.1 1089.00,1136.6 1089.19,1151.5 1089.38,1112.8 1089.57,1110.2 1089.77,1098.3 1089.96,1095.2 1090.15,1135.9 1090.35,1082.2 1090.54,1121.3 1090.73,1162.8 1090.93,1102.4 1091.12,1112.7 1091.31,1109.2 1091.51,1146.4 1091.70,1118.4 1091.89,1108.6 1092.08,1115.4 1092.28,1098.0 1092.47,1086.2 1092.66,1080.5 1092.86,1086.4 1093.05,1116.6 1093.24,1079.3 1093.44,1112.6 1093.63,1103.3 1093.82,1129.8 1094.02,1157.1 1094.21,1174.8 1094.40,1124.6 1094.59,1140.5 1094.79,1123.2 1094.98,1100.6 1095.17,1147.2 1095.37,1147.6 1095.56,1099.7 1095.75,1090.9 1095.95,1097.1 1096.14,1095.9 1096.33,1114.3 1096.53,1081.9 1096.72,1098.2 1096.91,1078.7 1097.10,1075.4 1097.30,1116.0 1097.49,1104.4 1097.68,1116.4 1097.88,1110.7 1098.07,1096.1 1098.26,1115.1 1098.46,1113.3 1098.65,1109.6 1098.84,1132.4 1099.04,1120.1 1099.23,1109.1 1099.42,1087.2 1099.61,1083.4 1099.81,1061.4 1100.00,1131.2 1100.19,1108.8 1100.39,1143.8 1100.58,1118.1 1100.77,1140.1 1100.97,1079.4 1101.16,1086.3 1101.35,1123.5 1101.55,1094.3 1101.74,1087.6 1101.93,1069.3 1102.12,1091.4 1102.32,1109.3 1102.51,1117.0 1102.70,1104.8 1102.90,1113.6 1103.09,1131.1 1103.28,1146.6 1103.48,1097.6 1103.67,1132.7 1103.86,1120.7 1104.06,1095.7 1104.25,1111.0 1104.44,1083.3 1104.63,1128.1 1104.83,1086.4 1105.02,1128.2 1105.21,1130.1 1105.41,1119.1 1105.60,1093.7 1105.79,1109.6 1105.99,1124.0 1106.18,1070.1 1106.37,1116.3 1106.57,1099.7 1106.76,1093.6 1106.95,1111.1 1107.14,1095.9 1107.34,1092.7 1107.53,1109.4 1107.72,1086.5 1107.92,1122.0 1108.11,1133.2 1108.30,1107.9 1108.50,1133.2 1108.69,1104.9 1108.88,1113.6 1109.08,1119.2 1109.27,1095.4 1109.46,1095.3 1109.65,1164.0 1109.85,1111.9 1110.04,1102.2 1110.23,1095.2 1110.43,1118.4 1110.62,1133.8 1110.81,1110.4 1111.01,1040.0 1111.20,1163.5 1111.39,1154.7 1111.59,1137.9 1111.78,1173.4 1111.97,1141.7 1112.16,1111.8 1112.36,1149.8 1112.55,1121.8 1112.74,1140.4 1112.94,1109.9 1113.13,1103.0 1113.32,1087.4 1113.52,1111.4 1113.71,1088.2 1113.90,1098.4 1114.10,1113.1 1114.29,1068.8 1114.48,1110.2 1114.67,1093.1 1114.87,1045.4 1115.06,1080.3 1115.25,1119.3 1115.45,1100.1 1115.64,1122.0 1115.83,1115.7 1116.03,1144.9 1116.22,1108.1 1116.41,1144.4 1116.61,1103.3 1116.80,1103.0 1116.99,1091.9 1117.18,1060.4 1117.38,1139.1 1117.57,1126.0 1117.76,1118.8 1117.96,1106.9 1118.15,1073.2 1118.34,1095.9 1118.54,1099.6 1118.73,1111.8 1118.92,1103.3 1119.12,1102.6 1119.31,1099.5 1119.50,1131.0 1119.70,1105.0 1119.89,1094.2 1120.08,1101.3 1120.27,1136.5 1120.47,1092.4 1120.66,1090.3 1120.85,1097.2 1121.05,1125.5 1121.24,1127.3 1121.43,1092.9 1121.63,1114.6 1121.82,1122.2 1122.01,1078.0 1122.21,1082.4 1122.40,1094.9 1122.59,1088.6 1122.78,1104.8 1122.98,1154.5 1123.17,1109.5 1123.36,1132.7 1123.56,1125.5 1123.75,1099.5 1123.94,1119.5 1124.14,1090.5 1124.33,1117.5 1124.52,1122.6 1124.72,1126.8 1124.91,1114.0 1125.10,1147.6 1125.29,1114.4 1125.49,1116.2 1125.68,1124.7 1125.87,1159.6 1126.07,1155.8 1126.26,1092.2 1126.45,1123.1 1126.65,1068.9 1126.84,1109.4 1127.03,1084.4 1127.23,1121.9 1127.42,1104.9 1127.61,1096.5 1127.80,1079.8 1128.00,1056.0 1128.19,1070.0 1128.38,1119.0 1128.58,1085.6 1128.77,1086.7 1128.96,1094.6 1129.16,1068.0 1129.35,1048.8 1129.54,1095.9 1129.74,1067.2 1129.93,1065.6 1130.12,1121.0 1130.31,1062.7 1130.51,1064.9 1130.70,1093.2 1130.89,1060.5 1131.09,1088.6 1131.28,1067.8 1131.47,1078.1 1131.67,1111.3 1131.86,1090.3 1132.05,1103.3 1132.25,1113.6 1132.44,1129.5 1132.63,1122.4 1132.82,1132.2 1133.02,1081.7 1133.21,1147.0 1133.40,1103.0 1133.60,1117.3 1133.79,1131.5 1133.98,1091.0 1134.18,1124.9 1134.37,1084.0 1134.56,1115.0 1134.76,1105.0 1134.95,1114.6 1135.14,1097.4 1135.33,1090.3 1135.53,1118.7 1135.72,1108.5 1135.91,1070.6 1136.11,1120.0 1136.30,1069.6 1136.49,1116.3 1136.69,1119.7 1136.88,1143.2 1137.07,1123.9 1137.27,1140.9 1137.46,1114.7 1137.65,1087.9 1137.84,1104.7 1138.04,1117.2 1138.23,1127.0 1138.42,1120.0 1138.62,1135.2 1138.81,1129.3 1139.00,1058.9 1139.20,1093.9 1139.39,1118.8 1139.58,1087.1 1139.78,1072.7 1139.97,1122.8 1140.16,1116.6 1140.35,1144.5 1140.55,1152.8 1140.74,1088.7 1140.93,1054.5 1141.13,1129.4 1141.32,1145.6 1141.51,1079.1 1141.71,1085.8 1141.90,1098.7 1142.09,1079.3 1142.29,1119.6 1142.48,1108.0 1142.67,1097.9 1142.86,1121.1 1143.06,1103.5 1143.25,1117.7 1143.44,1102.2 1143.64,1108.1 1143.83,1153.5 1144.02,1110.7 1144.22,1144.4 1144.41,1133.1 1144.60,1150.1 1144.80,1096.1 1144.99,1118.0 1145.18,1116.5 1145.37,1079.0 1145.57,1087.7 1145.76,1105.4 1145.95,1143.8 1146.15,1085.0 1146.34,1104.3 1146.53,1106.5 1146.73,1083.9 1146.92,1113.7 1147.11,1103.2 1147.31,1084.1 1147.50,1092.1 1147.69,1117.8 1147.88,1073.5 1148.08,1078.6 1148.27,1061.7 1148.46,1102.5 1148.66,1097.9 1148.85,1083.0 1149.04,1100.8 1149.24,1113.4 1149.43,1124.7 1149.62,1133.6 1149.82,1143.7 1150.01,1145.0 1150.20,1123.6 1150.39,1139.4 1150.59,1163.5 1150.78,1133.1 1150.97,1098.9 1151.17,1103.7 1151.36,1171.7 1151.55,1142.2 1151.75,1101.9 1151.94,1110.2 1152.13,1104.4 1152.33,1174.0 1152.52,1096.5 1152.71,1116.6 1152.90,1067.8 1153.10,1112.8 1153.29,1092.0 1153.48,1054.9 1153.68,1062.7 1153.87,1085.0 1154.06,1085.2 1154.26,1098.4 1154.45,1097.8 1154.64,1093.9 1154.84,1062.3 1155.03,1101.0 1155.22,1081.1 1155.41,1085.2 1155.61,1087.5 1155.80,1104.1 1155.99,1084.9 1156.19,1098.8 1156.38,1101.6 1156.57,1114.4 1156.77,1149.6 1156.96,1088.8 1157.15,1088.5 1157.35,1116.3 1157.54,1111.3 1157.73,1103.4 1157.92,1131.6 1158.12,1097.7 1158.31,1098.8 1158.50,1096.8 1158.70,1095.4 1158.89,1153.7 1159.08,1101.3 1159.28,1119.8 1159.47,1085.9 1159.66,1086.0 1159.86,1089.5 1160.05,1106.2 1160.24,1042.8 1160.43,1100.4 1160.63,1120.0 1160.82,1077.7 1161.01,1129.9 1161.21,1061.1 1161.40,1083.0 1161.59,1079.6 1161.79,1088.5 1161.98,1104.0 1162.17,1140.3 1162.37,1123.8 1162.56,1097.7 1162.75,1112.8 1162.94,1100.4 1163.14,1122.6 1163.33,1124.8 1163.52,1101.2 1163.72,1089.8 1163.91,1101.8 1164.10,1117.7 1164.30,1126.1 1164.49,1039.5 1164.68,1098.8 1164.88,1083.3 1165.07,1070.8 1165.26,1026.3 1165.45,1054.2 1165.65,1015.6 1165.84,1010.9 1166.03,1032.7 1166.23,989.6 1166.42,1008.1 1166.61,968.0 1166.81,931.4 1167.00,941.3 1167.19,946.9 1167.39,912.0 1167.58,922.0 1167.77,939.5 1167.97,987.1 1168.16,989.0 1168.35,949.0 1168.54,981.0 1168.74,996.7 1168.93,1010.7 1169.12,1036.5 1169.32,1058.6 1169.51,1059.8 1169.70,1059.1 1169.90,1075.3 1170.09,1088.6 1170.28,1115.1 1170.48,1089.3 1170.67,1119.0 1170.86,1108.2 1171.05,1091.1 1171.25,1093.6 1171.44,1077.0 1171.63,1086.8 1171.83,1101.0 1172.02,1123.9 1172.21,1122.3 1172.41,1130.6 1172.60,1090.9 1172.79,1117.0 1172.99,1136.6 1173.18,1134.7 1173.37,1083.5 1173.56,1120.4 1173.76,1089.2 1173.95,1090.4 1174.14,1071.4 1174.34,1113.5 1174.53,1088.7 1174.72,1098.5 1174.92,1090.6 1175.11,1082.5 1175.30,1111.0 1175.50,1118.9 1175.69,1096.6 1175.88,1145.5 1176.07,1114.0 1176.27,1141.4 1176.46,1150.2 1176.65,1162.4 1176.85,1167.6 1177.04,1117.5 1177.23,1115.6 1177.43,1127.6 1177.62,1101.2 1177.81,1113.3 1178.01,1115.1 1178.20,1119.3 1178.39,1075.8 1178.58,1074.0 1178.78,1068.0 1178.97,1117.7 1179.16,1115.6 1179.36,1145.8 1179.55,1099.6 1179.74,1112.3 1179.94,1117.9 1180.13,1128.3 1180.32,1128.8 1180.52,1130.7 1180.71,1098.8 1180.90,1135.0 1181.09,1104.7 1181.29,1119.0 1181.48,1147.1 1181.67,1156.2 1181.87,1141.3 1182.06,1124.6 1182.25,1150.4 1182.45,1110.8 1182.64,1100.8 1182.83,1113.9 1183.03,1161.7 1183.22,1174.8 1183.41,1112.4 1183.60,1100.6 1183.80,1140.4 1183.99,1121.0 1184.18,1136.7 1184.38,1143.3 1184.57,1108.9 1184.76,1141.5 1184.96,1112.7 1185.15,1094.0 1185.34,1130.2 1185.54,1084.3 1185.73,1145.3 1185.92,1091.7 1186.11,1102.9 1186.31,1043.0 1186.50,1089.0 1186.69,1102.6 1186.89,1050.1 1187.08,1116.8 1187.27,1077.7 1187.47,1106.2 1187.66,1182.0 1187.85,1097.4 1188.05,1079.1 1188.24,1100.2 1188.43,1124.7 1188.62,1148.1 1188.82,1065.9 1189.01,1099.1 1189.20,1129.3 1189.40,1113.5 1189.59,1088.3 1189.78,1142.4 1189.98,1064.7 1190.17,1117.7 1190.36,1119.1 1190.56,1083.6 1190.75,1106.2 1190.94,1131.6 1191.13,1090.0 1191.33,1097.9 1191.52,1082.2 1191.71,1125.1 1191.91,1130.7 1192.10,1095.8 1192.29,1120.4 1192.49,1159.1 1192.68,1128.6 1192.87,1105.1 1193.07,1135.3 1193.26,1093.4 1193.45,1128.9 1193.64,1116.2 1193.84,1143.6 1194.03,1122.2 1194.22,1107.1 1194.42,1090.8 1194.61,1100.6 1194.80,1084.7 1195.00,1156.4 1195.19,1112.5 1195.38,1117.4 1195.58,1136.5 1195.77,1114.0 1195.96,1170.0 1196.15,1098.6 1196.35,1112.5 1196.54,1092.9 1196.73,1122.6 1196.93,1077.6 1197.12,1098.4 1197.31,1071.6 1197.51,1114.8 1197.70,1124.2 1197.89,1111.4 1198.09,1124.0 1198.28,1134.5 1198.47,1109.1 1198.66,1107.7 1198.86,1117.7 1199.05,1110.2 1199.24,1121.1 1199.44,1096.0 1199.63,1126.4 1199.82,1060.6 1200.02,1095.2 1200.21,1075.3 1200.40,1121.1 1200.60,1088.7 1200.79,1099.5 1200.98,1076.9 1201.17,1081.4 1201.37,1137.6 1201.56,1080.0 1201.75,1136.8 1201.95,1076.6 1202.14,1107.0 1202.33,1132.6 1202.53,1094.1 1202.72,1111.3 1202.91,1136.1 1203.11,1132.4 1203.30,1106.5 1203.49,1143.9 1203.68,1128.7 1203.88,1065.1 1204.07,1115.3 1204.26,1086.5 1204.46,1083.0 1204.65,1072.8 1204.84,1076.9 1205.04,1153.4 1205.23,1114.3 1205.42,1082.7 1205.62,1128.2 1205.81,1074.7 1206.00,1109.6 1206.19,1141.0 1206.39,1101.8 1206.58,1071.1 1206.77,1125.1 1206.97,1095.7 1207.16,1123.0 1207.35,1112.7 1207.55,1094.3 1207.74,1083.3 1207.93,1085.4 1208.13,1088.0 1208.32,1041.2 1208.51,1023.4 1208.70,1134.1 1208.90,1083.2 1209.09,1091.9 1209.28,1126.4 1209.48,1056.9 1209.67,1106.6 1209.86,1119.8 1210.06,1079.2 1210.25,1074.5 1210.44,1039.1 1210.64,1124.9 1210.83,1122.2 1211.02,1103.8 1211.21,1110.5 1211.41,1105.2 1211.60,1119.5 1211.79,1136.5 1211.99,1110.1 1212.18,1082.0 1212.37,1076.9 1212.57,1104.7 1212.76,1076.7 1212.95,1078.4 1213.15,1097.9 1213.34,1096.0 1213.53,1089.7 1213.72,1034.7 1213.92,1093.0 1214.11,1117.8 1214.30,1103.8 1214.50,1114.0 1214.69,1079.2 1214.88,1151.1 1215.08,1128.6 1215.27,1087.4 1215.46,1096.0 1215.66,1103.8 1215.85,1088.4 1216.04,1132.4 1216.24,1096.8 1216.43,1130.2 1216.62,1134.1 1216.81,1095.8 1217.01,1122.5 1217.20,1110.1 1217.39,1084.5 1217.59,1115.1 1217.78,1074.9 1217.97,1037.0 1218.17,1089.4 1218.36,1066.8 1218.55,1074.7 1218.75,1122.6 1218.94,1127.8 1219.13,1100.0 1219.32,1146.1 1219.52,1098.8 1219.71,1093.0 1219.90,1086.9 1220.10,1085.8 1220.29,1066.1 1220.48,1102.0 1220.68,1066.7 1220.87,1085.3 1221.06,1086.2 1221.26,1101.9 1221.45,1079.4 1221.64,1117.9 1221.83,1088.6 1222.03,1083.2 1222.22,1124.5 1222.41,1133.1 1222.61,1130.5 1222.80,1116.1 1222.99,1107.5 1223.19,1095.4 1223.38,1071.3 1223.57,1074.4 1223.77,1100.7 1223.96,1112.6 1224.15,1128.1 1224.34,1082.8 1224.54,1088.8 1224.73,1106.2 1224.92,1104.5 1225.12,1104.4 1225.31,1157.8 1225.50,1104.2 1225.70,1096.4 1225.89,1106.7 1226.08,1128.4 1226.28,1107.3 1226.47,1101.2 1226.66,1076.1 1226.85,1095.2 1227.05,1108.1 1227.24,1124.0 1227.43,1151.9 1227.63,1131.7 1227.82,1147.9 1228.01,1116.9 1228.21,1088.5 1228.40,1086.8 1228.59,1088.9 1228.79,1108.1 1228.98,1088.3 1229.17,1115.9 1229.36,1151.8 1229.56,1105.9 1229.75,1107.1 1229.94,1144.7 1230.14,1119.0 1230.33,1161.6 1230.52,1121.1 1230.72,1086.6 1230.91,1128.3 1231.10,1087.8 1231.30,1111.7 1231.49,1132.4 1231.68,1153.9 1231.87,1098.3 1232.07,1025.0 1232.26,1144.7 1232.45,1121.6 1232.65,1088.1 1232.84,1126.6 1233.03,1099.3 1233.23,1145.1 1233.42,1118.4 1233.61,1079.4 1233.81,1118.1 1234.00,1123.1 1234.19,1122.7 1234.38,1102.6 1234.58,1130.5 1234.77,1101.4 1234.96,1088.9 1235.16,1069.3 1235.35,1111.7 1235.54,1068.7 1235.74,1091.0 1235.93,1107.6 1236.12,1091.7 1236.32,1069.9 1236.51,1069.6 1236.70,1084.7 1236.89,1102.6 1237.09,1083.4 1237.28,1098.3 1237.47,1101.9 1237.67,1103.8 1237.86,1075.2 1238.05,1144.9 1238.25,1124.9 1238.44,1149.6 1238.63,1108.6 1238.83,1102.3 1239.02,1094.6 1239.21,1127.8 1239.40,1114.4 1239.60,1093.5 1239.79,1100.5 1239.98,1093.2 1240.18,1091.6 1240.37,1088.1 1240.56,1096.1 1240.76,1085.1 1240.95,1161.0 1241.14,1108.3 1241.34,1130.9 1241.53,1106.6 1241.72,1121.3 1241.91,1093.3 1242.11,1076.5 1242.30,1129.3 1242.49,1119.3 1242.69,1096.2 1242.88,1074.3 1243.07,1091.9 1243.27,1103.0 1243.46,1118.2 1243.65,1130.1 1243.85,1114.6 1244.04,1112.1 1244.23,1117.3 1244.42,1130.1 1244.62,1149.1 1244.81,1130.4 1245.00,1118.0 1245.20,1133.6 1245.39,1101.4 1245.58,1139.6 1245.78,1116.7 1245.97,1104.6 1246.16,1097.4 1246.36,1112.8 1246.55,1095.7 1246.74,1137.9 1246.93,1144.9 1247.13,1106.7 1247.32,1148.6 1247.51,1130.4 1247.71,1160.1 1247.90,1093.6 1248.09,1096.3 1248.29,1122.3 1248.48,1139.6 1248.67,1094.3 1248.87,1092.9 1249.06,1073.5 1249.25,1058.9 1249.44,1094.3 1249.64,1105.4 1249.83,1108.2 1250.02,1112.6 1250.22,1138.8 1250.41,1131.8 1250.60,1116.8 1250.80,1151.2 1250.99,1143.8 1251.18,1087.8 1251.38,1125.3 1251.57,1089.0 1251.76,1076.7 1251.95,1094.0 1252.15,1071.5 1252.34,1089.2 1252.53,1101.2 1252.73,1083.1 1252.92,1078.9 1253.11,1078.9 1253.31,1082.5 1253.50,1096.1 1253.69,1068.8 1253.89,1099.6 1254.08,1106.8 1254.27,1079.3 1254.46,1120.6 1254.66,1098.1 1254.85,1063.9 1255.04,1090.5 1255.24,1057.5 1255.43,1090.3 1255.62,1093.9 1255.82,1087.4 1256.01,1099.7 1256.20,1100.9 1256.40,1108.6 1256.59,1087.1 1256.78,1098.5 1256.97,1111.3 1257.17,1120.0 1257.36,1038.5 1257.55,1099.4 1257.75,1062.1 1257.94,1117.1 1258.13,1109.8 1258.33,1071.5 1258.52,1125.7 1258.71,1128.8 1258.91,1108.9 1259.10,1123.0 1259.29,1111.7 1259.48,1099.5 1259.68,1082.0 1259.87,1095.6 1260.06,1093.1 1260.26,1071.3 1260.45,1069.7 1260.64,1107.4 1260.84,1137.9 1261.03,1116.6 1261.22,1068.3 1261.42,1098.5 1261.61,1101.7 1261.80,1096.6 1261.99,1055.2 1262.19,1091.6 1262.38,1104.1 1262.57,1113.3 1262.77,1123.6 1262.96,1040.5 1263.15,1102.6 1263.35,1098.8 1263.54,1108.2 1263.73,1077.1 1263.93,1120.2 1264.12,1137.9 1264.31,1106.4 1264.51,1084.0 1264.70,1040.0 1264.89,1088.5 1265.08,1105.7 1265.28,1095.8 1265.47,1114.2 1265.66,1122.0 1265.86,1110.3 1266.05,1021.0 1266.24,1133.6 1266.44,1095.7 1266.63,1118.8 1266.82,1110.8 1267.02,1120.2 1267.21,1097.3 1267.40,1092.6 1267.59,1083.6 1267.79,1113.1 1267.98,1081.2 1268.17,1107.4 1268.37,1020.0 1268.56,1079.8 1268.75,1063.1 1268.95,1105.4 1269.14,1119.6 1269.33,1092.6 1269.53,1069.8 1269.72,1104.2 1269.91,1045.4 1270.10,1138.0 1270.30,1063.5 1270.49,1068.7 1270.68,1067.3 1270.88,1106.1 1271.07,1055.9 1271.26,1057.4 1271.46,1054.0 1271.65,1085.6 1271.84,1087.4 1272.04,1056.9 1272.23,1080.3 1272.42,1097.7 1272.61,1109.0 1272.81,1085.6 1273.00,1120.9 1273.19,1080.0 1273.39,1089.6 1273.58,1126.0 1273.77,1080.3 1273.97,1060.6 1274.16,1077.5 1274.35,1108.3 1274.55,1088.7 1274.74,1052.4 1274.93,1094.1 1275.12,1067.7 1275.32,1026.9 1275.51,1050.9 1275.70,1048.4 1275.90,1006.3 1276.09,976.1 1276.28,992.0 1276.48,1020.8 1276.67,1016.9 1276.86,974.3 1277.06,1002.5 1277.25,952.4 1277.44,958.3 1277.63,1004.5 1277.83,941.7 1278.02,932.4 1278.21,954.8 1278.41,937.5 1278.60,942.5 1278.79,937.4 1278.99,942.2 1279.18,973.3 1279.37,1012.1 1279.57,1024.6 1279.76,1038.8 1279.95,1002.9 1280.14,1020.6 1280.34,1026.1 1280.53,1039.6 1280.72,1014.8 1280.92,1031.6 1281.11,1037.7 1281.30,1077.8 1281.50,1071.5 1281.69,1093.9 1281.88,1081.1 1282.08,1066.6 1282.27,1096.3 1282.46,1084.4 1282.65,1028.6 1282.85,1076.0 1283.04,1105.3 1283.23,1101.0 1283.43,1077.2 1283.62,1058.5 1283.81,1080.0 1284.01,1061.2 1284.20,1075.1 1284.39,1107.5 1284.59,1062.9 1284.78,1095.6 1284.97,1046.2 1285.16,1100.9 1285.36,1093.7 1285.55,1104.9 1285.74,1101.3 1285.94,1087.6 1286.13,1102.9 1286.32,1075.1 1286.52,1092.9 1286.71,1070.1 1286.90,1105.0 1287.10,1081.6 1287.29,1086.1 1287.48,1116.9 1287.67,1061.2 1287.87,1083.7 1288.06,1103.3 1288.25,1117.0 1288.45,1111.3 1288.64,1109.1 1288.83,1095.0 1289.03,1121.8 1289.22,1094.6 1289.41,1108.4 1289.61,1061.6 1289.80,1084.1 1289.99,1069.7 1290.18,1060.2 1290.38,1106.5 1290.57,1078.2 1290.76,1115.9 1290.96,1111.1 1291.15,1143.0 1291.34,1117.5 1291.54,1084.9 1291.73,1100.9 1291.92,1115.5 1292.12,1104.0 1292.31,1118.2 1292.50,1116.3 1292.69,1132.9 1292.89,1080.0 1293.08,1082.9 1293.27,1112.2 1293.47,1142.8 1293.66,1123.4 1293.85,1078.2 1294.05,1150.7 1294.24,1133.6 1294.43,1131.2 1294.63,1100.6 1294.82,1139.6 1295.01,1101.3 1295.20,1118.5 1295.40,1103.8 1295.59,1118.9 1295.78,1080.9 1295.98,1103.8 1296.17,1108.6 1296.36,1076.0 1296.56,1095.5 1296.75,1056.3 1296.94,1100.6 1297.14,1109.7 1297.33,1109.9 1297.52,1054.6 1297.71,1086.5 1297.91,1118.9 1298.10,1105.4 1298.29,1122.2 1298.49,1096.6 1298.68,1120.5 1298.87,1120.6 1299.07,1099.0 1299.26,1080.3 1299.45,1091.8 1299.65,1094.0 1299.84,1107.5 1300.03,1157.3 1300.22,1106.9 1300.42,1105.7 1300.61,1089.2 1300.80,1063.6 1301.00,1086.3 1301.19,1142.0 1301.38,1106.9 1301.58,1114.6 1301.77,1096.0 1301.96,1112.8 1302.16,1150.8 1302.35,1127.4 1302.54,1113.5 1302.73,1149.5 1302.93,1108.7 1303.12,1113.3 1303.31,1086.0 1303.51,1112.5 1303.70,1124.4 1303.89,1114.9 1304.09,1112.7 1304.28,1093.2 1304.47,1135.4 1304.67,1164.3 1304.86,1058.6 1305.05,1102.8 1305.24,1119.4 1305.44,1069.5 1305.63,1146.4 1305.82,1139.5 1306.02,1132.0 1306.21,1111.5 1306.40,1130.7 1306.60,1102.2 1306.79,1123.9 1306.98,1085.6 1307.18,1100.6 1307.37,1143.3 1307.56,1164.0 1307.75,1129.4 1307.95,1107.9 1308.14,1106.1 1308.33,1060.1 1308.53,1116.1 1308.72,1148.4 1308.91,1113.7 1309.11,1142.0 1309.30,1077.2 1309.49,1099.2 1309.69,1076.8 1309.88,1114.2 1310.07,1122.7 1310.26,1088.7 1310.46,1119.9 1310.65,1107.4 1310.84,1100.4 1311.04,1086.0 1311.23,1115.6 1311.42,1128.7 1311.62,1056.8 1311.81,1103.8 1312.00,1101.4 1312.20,1089.8 1312.39,1098.1 1312.58,1127.1 1312.78,1128.1 1312.97,1088.9 1313.16,1101.0 1313.35,1114.9 1313.55,1096.1 1313.74,1171.2 1313.93,1126.0 1314.13,1132.4 1314.32,1164.8 1314.51,1111.7 1314.71,1100.1 1314.90,1103.0 1315.09,1142.4 1315.29,1103.4 1315.48,1089.9 1315.67,1095.5 1315.86,1079.7 1316.06,1070.0 1316.25,1045.6 1316.44,1067.8 1316.64,1038.5 1316.83,1067.6 1317.02,1068.8 1317.22,1062.4 1317.41,1086.8 1317.60,1099.4 1317.80,1073.5 1317.99,1154.0 1318.18,1151.6 1318.37,1070.8 1318.57,1099.3 1318.76,1101.3 1318.95,1103.6 1319.15,1101.5 1319.34,1127.1 1319.53,1113.5 1319.73,1131.7 1319.92,1087.6 1320.11,1102.3 1320.31,1113.9 1320.50,1112.0 1320.69,1122.3 1320.88,1141.4 1321.08,1075.8 1321.27,1095.0 1321.46,1110.0 1321.66,1091.1 1321.85,1074.1 1322.04,1073.3 1322.24,1081.2 1322.43,1074.3 1322.62,1094.2 1322.82,1058.4 1323.01,1067.7 1323.20,1070.3 1323.39,1123.7 1323.59,1087.8 1323.78,1093.3 1323.97,1094.6 1324.17,1168.3 1324.36,1151.0 1324.55,1099.2 1324.75,1119.6 1324.94,1085.2 1325.13,1091.6 1325.33,1068.6 1325.52,1099.0 1325.71,1110.6 1325.90,1077.0 1326.10,1095.0 1326.29,1114.2 1326.48,1130.4 1326.68,1035.3 1326.87,1091.1 1327.06,1087.1 1327.26,1124.2 1327.45,1104.1 1327.64,1086.2 1327.84,1076.6 1328.03,1068.2 1328.22,1104.1 1328.41,1080.8 1328.61,1070.2 1328.80,1110.4 1328.99,1104.1 1329.19,1144.5 1329.38,1124.2 1329.57,1135.7 1329.77,1087.6 1329.96,1100.8 1330.15,1055.3 1330.35,1079.4 1330.54,1061.9 1330.73,1067.1 1330.92,1075.0 1331.12,1105.4 1331.31,1049.6 1331.50,1092.9 1331.70,1137.0 1331.89,1114.8 1332.08,1130.5 1332.28,1082.5 1332.47,1085.3 1332.66,1073.3 1332.86,1056.5 1333.05,1116.2 1333.24,1141.1 1333.43,1117.9 1333.63,1086.5 1333.82,1154.4 1334.01,1108.7 1334.21,1078.1 1334.40,1116.6 1334.59,1101.8 1334.79,1120.4 1334.98,1062.9 1335.17,1059.0 1335.37,1124.2 1335.56,1119.8 1335.75,1096.9 1335.94,1082.2 1336.14,1084.6 1336.33,1075.3 1336.52,1063.6 1336.72,1055.4 1336.91,1038.9 1337.10,1077.1 1337.30,1094.3 1337.49,1089.7 1337.68,1043.1 1337.88,1077.7 1338.07,1083.3 1338.26,1070.9 1338.45,1073.7 1338.65,1047.8 1338.84,1116.1 1339.03,1091.4 1339.23,1076.7 1339.42,1072.0 1339.61,1095.4 1339.81,1120.5 1340.00,1089.6 1340.19,1099.5 1340.39,1088.8 1340.58,1066.3 1340.77,1081.1 1340.96,1128.6 1341.16,1125.6 1341.35,1108.2 1341.54,1088.0 1341.74,1113.5 1341.93,1103.9 1342.12,1137.9 1342.32,1110.9 1342.51,1114.7 1342.70,1091.3 1342.90,1101.9 1343.09,1116.8 1343.28,1123.2 1343.47,1095.7 1343.67,1115.3 1343.86,1074.5 1344.05,1094.7 1344.25,1102.2 1344.44,1073.7 1344.63,1117.9 1344.83,1068.4 1345.02,1102.9 1345.21,1070.0 1345.41,1102.4 1345.60,1110.4 1345.79,1132.9 1345.98,1093.4 1346.18,1086.2 1346.37,1130.5 1346.56,1062.1 1346.76,1104.0 1346.95,1131.0 1347.14,1065.1 1347.34,1120.9 1347.53,1082.8 1347.72,1159.8 1347.92,1072.0 1348.11,1114.5 1348.30,1115.0 1348.49,1102.3 1348.69,1129.3 1348.88,1078.0 1349.07,1085.8 1349.27,1088.0 1349.46,1109.8 1349.65,1126.8 1349.85,1097.7 1350.04,1091.5 1350.23,1108.9 1350.43,1116.1 1350.62,1120.0 1350.81,1087.6 1351.00,1065.8 1351.20,1095.7 1351.39,1105.0 1351.58,1025.5 1351.78,1110.0 1351.97,1065.8 1352.16,1071.2 1352.36,1038.7 1352.55,1071.0 1352.74,1105.8 1352.94,1096.1 1353.13,1071.8 1353.32,1078.8 1353.51,1097.1 1353.71,1098.7 1353.90,1124.0 1354.09,1124.9 1354.29,1108.7 1354.48,1112.8 1354.67,1102.6 1354.87,1126.2 1355.06,1064.6 1355.25,1136.1 1355.45,1075.7 1355.64,1081.1 1355.83,1057.9 1356.02,1063.6 1356.22,1126.6 1356.41,1094.7 1356.60,1092.3 1356.80,1094.7 1356.99,1108.5 1357.18,1133.7 1357.38,1090.5 1357.57,1117.1 1357.76,1119.0 1357.96,1097.8 1358.15,1106.5 1358.34,1107.1 1358.53,1086.5 1358.73,1029.1 1358.92,1080.1 1359.11,1087.5 1359.31,1102.3 1359.50,1088.4 1359.69,1126.6 1359.89,1094.3 1360.08,1102.4 1360.27,1108.1 1360.47,1099.3 1360.66,1111.1 1360.85,1086.4 1361.05,1081.8 1361.24,1074.1 1361.43,1081.1 1361.62,1058.9 1361.82,1081.7 1362.01,1051.5 1362.20,1086.8 1362.40,1061.9 1362.59,1025.0 1362.78,1097.1 1362.98,1119.1 1363.17,1081.8 1363.36,1084.6 1363.56,1087.4 1363.75,1075.5 1363.94,1078.8 1364.13,1100.5 1364.33,1106.1 1364.52,1068.1 1364.71,1080.7 1364.91,1054.2 1365.10,1045.3 1365.29,1072.5 1365.49,1077.7 1365.68,1080.4 1365.87,1091.1 1366.07,1107.3 1366.26,1150.4 1366.45,1076.0 1366.64,1079.9 1366.84,1092.2 1367.03,1091.1 1367.22,1075.1 1367.42,1079.6 1367.61,1099.1 1367.80,1112.2 1368.00,1097.0 1368.19,1095.9 1368.38,1067.9 1368.58,1137.7 1368.77,1107.1 1368.96,1135.6 1369.15,1123.8 1369.35,1060.4 1369.54,1119.4 1369.73,1113.1 1369.93,1123.3 1370.12,1092.4 1370.31,1120.6 1370.51,1147.2 1370.70,1106.1 1370.89,1088.6 1371.09,1104.5 1371.28,1098.7 1371.47,1117.3 1371.66,1124.4 1371.86,1107.4 1372.05,1136.7 1372.24,1125.4 1372.44,1139.5 1372.63,1123.5 1372.82,1099.6 1373.02,1114.6 1373.21,1085.2 1373.40,1098.5 1373.60,1107.9 1373.79,1125.2 1373.98,1103.9 1374.17,1130.9 1374.37,1086.8 1374.56,1129.7 1374.75,1127.2 1374.95,1111.8 1375.14,1126.2 1375.33,1084.5 1375.53,1102.1 1375.72,1095.5 1375.91,1074.1 1376.11,1139.8 1376.30,1101.9 1376.49,1093.6 1376.68,1083.6 1376.88,1107.0 1377.07,1127.4 1377.26,1093.5 1377.46,1092.1 1377.65,1059.8 1377.84,1054.9 1378.04,1099.8 1378.23,1059.4 1378.42,1080.5 1378.62,1105.2 1378.81,1067.2 1379.00,1055.2 1379.19,1137.5 1379.39,1058.1 1379.58,1036.0 1379.77,1051.3 1379.97,1079.4 1380.16,1078.5 1380.35,1047.2 1380.55,1081.7 1380.74,1023.9 1380.93,1088.8 1381.13,1077.2 1381.32,1084.9 1381.51,1044.8 1381.70,1054.8 1381.90,1029.9 1382.09,1016.8 1382.28,1016.5 1382.48,1001.4 1382.67,991.7 1382.86,1009.1 1383.06,1012.6 1383.25,1004.9 1383.44,948.7 1383.64,966.8 1383.83,966.4 1384.02,954.8 1384.21,933.4 1384.41,917.7 1384.60,926.6 1384.79,943.9 1384.99,901.3 1385.18,970.2 1385.37,918.5 1385.57,892.6 1385.76,898.2 1385.95,920.6 1386.15,902.1 1386.34,901.0 1386.53,914.3 1386.72,934.2 1386.92,922.2 1387.11,916.1 1387.30,998.3 1387.50,979.0 1387.69,1019.2 1387.88,999.1 1388.08,1015.0 1388.27,1003.0 1388.46,1006.1 1388.66,985.0 1388.85,988.3 1389.04,1045.4 1389.23,1047.9 1389.43,1032.4 1389.62,1072.0 1389.81,1078.1 1390.01,1121.8 1390.20,1073.9 1390.39,1092.5 1390.59,1125.8 1390.78,1137.8 1390.97,1133.7 1391.17,1099.5 1391.36,1115.7 1391.55,1125.7 1391.74,1099.5 1391.94,1068.0 1392.13,1055.8 1392.32,1052.2 1392.52,1079.2 1392.71,1079.2 1392.90,1082.9 1393.10,1079.9 1393.29,1086.4 1393.48,1124.4 1393.68,1123.2 1393.87,1118.6 1394.06,1097.4 1394.25,1125.9 1394.45,1133.2 1394.64,1095.6 1394.83,1086.2 1395.03,1136.7 1395.22,1118.4 1395.41,1087.3 1395.61,1115.8 1395.80,1081.4 1395.99,1126.4 1396.19,1096.4 1396.38,1074.4 1396.57,1053.1 1396.76,1063.7 1396.96,1117.6 1397.15,1114.9 1397.34,1100.8 1397.54,1065.4 1397.73,1070.0 1397.92,1066.7 1398.12,1081.2 1398.31,1115.2 1398.50,1117.9 1398.70,1135.0 1398.89,1101.7 1399.08,1147.5 1399.27,1117.0 1399.47,1109.6 1399.66,1084.8 1399.85,1125.0 1400.05,1099.0 1400.24,1129.9 1400.43,1088.6 1400.63,1121.7 1400.82,1123.2 1401.01,1138.3 1401.21,1131.0 1401.40,1131.2 1401.59,1129.6 1401.78,1091.0 1401.98,1136.9 1402.17,1110.6 1402.36,1097.8 1402.56,1139.5 1402.75,1159.7 1402.94,1100.5 1403.14,1142.1 1403.33,1118.7 1403.52,1099.2 1403.72,1086.5 1403.91,1095.1 1404.10,1103.3 1404.29,1066.9 1404.49,1083.9 1404.68,1048.3 1404.87,1109.8 1405.07,1092.7 1405.26,1091.0 1405.45,1077.0 1405.65,1081.5 1405.84,1083.7 1406.03,1044.6 1406.23,1084.4 1406.42,1072.0 1406.61,1079.3 1406.80,1099.0 1407.00,1072.9 1407.19,1131.5 1407.38,1068.5 1407.58,1126.1 1407.77,1098.5 1407.96,1088.5 1408.16,1100.4 1408.35,1100.9 1408.54,1065.3 1408.74,1044.9 1408.93,1075.6 1409.12,1100.2 1409.32,1123.4 1409.51,1132.7 1409.70,1095.4 1409.89,1104.7 1410.09,1095.1 1410.28,1098.9 1410.47,1087.5 1410.67,1123.3 1410.86,1122.2 1411.05,1123.1 1411.25,1099.8 1411.44,1102.8 1411.63,1097.1 1411.83,1126.8 1412.02,1099.8 1412.21,1088.9 1412.40,1106.8 1412.60,1167.9 1412.79,1112.2 1412.98,1120.6 1413.18,1094.6 1413.37,1118.6 1413.56,1102.3 1413.76,1123.8 1413.95,1107.1 1414.14,1090.1 1414.34,1112.3 1414.53,1095.3 1414.72,1094.2 1414.91,1081.0 1415.11,1094.0 1415.30,1080.1 1415.49,1129.7 1415.69,1097.6 1415.88,1077.6 1416.07,1082.9 1416.27,1118.1 1416.46,1113.3 1416.65,1084.4 1416.85,1080.7 1417.04,1074.7 1417.23,1080.8 1417.42,1079.2 1417.62,1060.5 1417.81,1105.3 1418.00,1119.6 1418.20,1074.9 1418.39,1119.6 1418.58,1096.0 1418.78,1131.4 1418.97,1145.8 1419.16,1093.6 1419.36,1129.4 1419.55,1157.6 1419.74,1131.0 1419.93,1127.2 1420.13,1125.0 1420.32,1115.1 1420.51,1142.1 1420.71,1123.8 1420.90,1109.5 1421.09,1107.5 1421.29,1119.8 1421.48,1138.4 1421.67,1161.7 1421.87,1086.2 1422.06,1136.7 1422.25,1118.5 1422.44,1104.8 1422.64,1092.6 1422.83,1101.0 1423.02,1117.6 1423.22,1102.4 1423.41,1060.7 1423.60,1056.2 1423.80,1118.9 1423.99,1105.3 1424.18,1159.9 1424.38,1121.8 1424.57,1113.7 1424.76,1136.5 1424.95,1092.3 1425.15,1112.1 1425.34,1116.7 1425.53,1176.6 1425.73,1140.2 1425.92,1110.9 1426.11,1134.4 1426.31,1157.7 1426.50,1127.6 1426.69,1077.1 1426.89,1088.8 1427.08,1079.6 1427.27,1090.1 1427.46,1059.1 1427.66,1153.7 1427.85,1123.1 1428.04,1062.1 1428.24,1086.4 1428.43,1110.2 1428.62,1128.6 1428.82,1163.6 1429.01,1135.5 1429.20,1128.3 1429.40,1142.1 1429.59,1090.3 1429.78,1094.6 1429.97,1120.6 1430.17,1095.2 1430.36,1115.7 1430.55,1110.1 1430.75,1127.2 1430.94,1065.2 1431.13,1148.6 1431.33,1117.1 1431.52,1087.7 1431.71,1083.4 1431.91,1136.1 1432.10,1120.1 1432.29,1102.0 1432.48,1117.8 1432.68,1116.3 1432.87,1108.8 1433.06,1107.5 1433.26,1081.0 1433.45,1140.6 1433.64,1082.9 1433.84,1111.4 1434.03,1096.5 1434.22,1119.4 1434.42,1065.6 1434.61,1156.0 1434.80,1094.4 1434.99,1129.3 1435.19,1123.3 1435.38,1084.7 1435.57,1114.2 1435.77,1085.7 1435.96,1069.9 1436.15,1110.6 1436.35,1054.0 1436.54,1070.9 1436.73,1104.6 1436.93,1099.2 1437.12,1124.5 1437.31,1109.1 1437.50,1102.1 1437.70,1102.4 1437.89,1119.4 1438.08,1133.0 1438.28,1131.9 1438.47,1133.5 1438.66,1112.9 1438.86,1087.6 1439.05,1107.1 1439.24,1105.8 1439.44,1113.1 1439.63,1080.5 1439.82,1101.7 1440.01,1134.7 1440.21,1080.7 1440.40,1084.7 1440.59,1108.7 1440.79,1117.2 1440.98,1110.2 1441.17,1127.7 1441.37,1084.8 1441.56,1074.5 1441.75,1080.1 1441.95,1095.0 1442.14,1093.1 1442.33,1085.3 1442.52,1060.0 1442.72,1113.0 1442.91,1096.8 1443.10,1112.1 1443.30,1125.1 1443.49,1094.3 1443.68,1078.7 1443.88,1125.3 1444.07,1080.8 1444.26,1085.3 1444.46,1087.5 1444.65,1067.0 1444.84,1108.8 1445.03,1061.1 1445.23,1104.4 1445.42,1087.8 1445.61,1135.1 1445.81,1085.3 1446.00,1108.4 1446.19,1123.0 1446.39,1133.4 1446.58,1107.2 1446.77,1082.9 1446.97,1099.8 1447.16,1119.2 1447.35,1129.7 1447.54,1136.3 1447.74,1120.6 1447.93,1145.9 1448.12,1116.6 1448.32,1080.8 1448.51,1099.9 1448.70,1097.0 1448.90,1102.4 1449.09,1072.2 1449.28,1073.2 1449.48,1057.2 1449.67,1103.7 1449.86,1115.1 1450.05,1106.8 1450.25,1121.6 1450.44,1098.0 1450.63,1107.4 1450.83,1117.3 1451.02,1100.8 1451.21,1079.2 1451.41,1086.0 1451.60,1115.1 1451.79,1101.9 1451.99,1096.3 1452.18,1088.8 1452.37,1109.5 1452.56,1127.8 1452.76,1090.4 1452.95,1114.6 1453.14,1098.6 1453.34,1094.0 1453.53,1067.4 1453.72,1096.6 1453.92,1084.9 1454.11,1096.3 1454.30,1107.6 1454.50,1081.1 1454.69,1111.8 1454.88,1093.5 1455.07,1098.6 1455.27,1144.3 1455.46,1141.0 1455.65,1167.9 1455.85,1102.6 1456.04,1104.4 1456.23,1122.0 1456.43,1123.2 1456.62,1119.7 1456.81,1125.7 1457.01,1111.6 1457.20,1109.1 1457.39,1124.0 1457.59,1072.1 1457.78,1078.0 1457.97,1105.6 1458.16,1049.9 1458.36,1044.7 1458.55,1068.5 1458.74,1069.3 1458.94,1106.5 1459.13,1100.6 1459.32,1127.4 1459.52,1104.5 1459.71,1078.1 1459.90,1110.9 1460.10,1141.7 1460.29,1077.5 1460.48,1074.8 1460.67,1089.0 1460.87,1156.7 1461.06,1109.5 1461.25,1145.4 1461.45,1130.5 1461.64,1111.3 1461.83,1090.9 1462.03,1132.6 1462.22,1122.8 1462.41,1138.1 1462.61,1108.5 1462.80,1128.3 1462.99,1119.1 1463.18,1094.3 1463.38,1112.5 1463.57,1111.2 1463.76,1108.3 1463.96,1097.7 1464.15,1085.9 1464.34,1139.5 1464.54,1148.2 1464.73,1102.2 1464.92,1097.1 1465.12,1081.4 1465.31,1093.8 1465.50,1073.6 1465.69,1099.7 1465.89,1125.2 1466.08,1047.0 1466.27,1135.0 1466.47,1132.0 1466.66,1109.0 1466.85,1120.7 1467.05,1091.1 1467.24,1113.4 1467.43,1061.6 1467.63,1117.2 1467.82,1078.1 1468.01,1103.0 1468.20,1066.4 1468.40,1114.3 1468.59,1093.1 1468.78,1176.3 1468.98,1136.0 1469.17,1088.6 1469.36,1120.6 1469.56,1121.9 1469.75,1101.5 1469.94,1064.2 1470.14,1132.5 1470.33,1105.8 1470.52,1110.7 1470.71,1085.1 1470.91,1115.3 1471.10,1134.4 1471.29,1134.6 1471.49,1089.6 1471.68,1100.7 1471.87,1088.2 1472.07,1179.0 1472.26,1124.5 1472.45,1115.4 1472.65,1084.3 1472.84,1091.4 1473.03,1102.8 1473.22,1118.9 1473.42,1091.8 1473.61,1104.3 1473.80,1075.0 1474.00,1058.3 1474.19,1095.6 1474.38,1124.9 1474.58,1053.6 1474.77,1093.8 1474.96,1099.3 1475.16,1111.3 1475.35,1112.5 1475.54,1116.4 1475.73,1115.5 1475.93,1155.7 1476.12,1141.9 1476.31,1131.1 1476.51,1128.0 1476.70,1127.8 1476.89,1122.5 1477.09,1168.9 1477.28,1148.8 1477.47,1140.3 1477.67,1120.5 1477.86,1124.1 1478.05,1074.8 1478.24,1121.5 1478.44,1114.9 1478.63,1139.0 1478.82,1064.8 1479.02,1101.1 1479.21,1106.5 1479.40,1120.7 1479.60,1109.0 1479.79,1121.8 1479.98,1091.0 1480.18,1134.8 1480.37,1125.7 1480.56,1124.3 1480.75,1095.3 1480.95,1094.8 1481.14,1075.6 1481.33,1081.3 1481.53,1079.2 1481.72,1090.3 1481.91,1073.4 1482.11,1083.9 1482.30,1088.8 1482.49,1131.5 1482.69,1108.9 1482.88,1114.2 1483.07,1137.7 1483.26,1070.0 1483.46,1065.2 1483.65,1071.3 1483.84,1080.5 1484.04,1059.1 1484.23,1123.9 1484.42,1059.4 1484.62,1128.6 1484.81,1083.2 1485.00,1086.5 1485.20,1081.8 1485.39,1083.3 1485.58,1087.2 1485.77,1122.7 1485.97,1128.1 1486.16,1137.7 1486.35,1123.2 1486.55,1137.8 1486.74,1167.5 1486.93,1179.0 1487.13,1158.6 1487.32,1141.5 1487.51,1140.7 1487.71,1132.6 1487.90,1096.0 1488.09,1115.2 1488.28,1124.7 1488.48,1104.6 1488.67,1112.1 1488.86,1124.9 1489.06,1075.7 1489.25,1073.1 1489.44,1130.4 1489.64,1068.6 1489.83,1064.9 1490.02,1134.7 1490.22,1097.4 1490.41,1113.4 1490.60,1091.5 1490.79,1172.8 1490.99,1102.2 1491.18,1127.8 1491.37,1114.6 1491.57,1109.6 1491.76,1173.7 1491.95,1132.0 1492.15,1130.3 1492.34,1114.6 1492.53,1098.8 1492.73,1101.6 1492.92,1128.9 1493.11,1093.9 1493.30,1123.3 1493.50,1090.8 1493.69,1111.4 1493.88,1112.2 1494.08,1106.0 1494.27,1142.9 1494.46,1116.5 1494.66,1135.6 1494.85,1090.9 1495.04,1083.5 1495.24,1140.7 1495.43,1156.8 1495.62,1103.2 1495.81,1118.8 1496.01,1123.7 1496.20,1052.1 1496.39,1105.4 1496.59,1114.6 1496.78,1095.8 1496.97,1046.0 1497.17,1055.0 1497.36,1083.0 1497.55,1118.7 1497.75,1107.1 1497.94,1063.8 1498.13,1146.7 1498.32,1117.1 1498.52,1094.4 1498.71,1113.8 1498.90,1121.7 1499.10,1131.8 1499.29,1104.5 1499.48,1091.1 1499.68,1091.6 1499.87,1069.4 1500.06,1083.1 1500.26,1058.0 1500.45,1082.5 1500.64,1068.2 1500.83,1097.7 1501.03,1057.5 1501.22,1070.9 1501.41,1085.6 1501.61,1123.0 1501.80,1098.0 1501.99,1161.8 1502.19,1105.2 1502.38,1091.6 1502.57,1112.7 1502.77,1091.1 1502.96,1081.2 1503.15,1058.1 1503.34,1097.1 1503.54,1131.1 1503.73,1147.4 1503.92,1100.6 1504.12,1078.1 1504.31,1074.8 1504.50,1099.2 1504.70,1119.4 1504.89,1125.4 1505.08,1118.9 1505.28,1118.7 1505.47,1110.6 1505.66,1120.5 1505.86,1077.7 1506.05,1113.0 1506.24,1101.6 1506.43,1086.0 1506.63,1085.1 1506.82,1117.2 1507.01,1137.8 1507.21,1132.9 1507.40,1100.7 1507.59,1100.1 1507.79,1109.4 1507.98,1102.5 1508.17,1092.5 1508.37,1135.5 1508.56,1063.1 1508.75,1059.5 1508.94,1098.9 1509.14,1118.5 1509.33,1109.8 1509.52,1145.7 1509.72,1115.8 1509.91,1133.4 1510.10,1116.4 1510.30,1118.4 1510.49,1064.5 1510.68,1123.5 1510.88,1095.8 1511.07,1108.7 1511.26,1065.0 1511.45,1075.9 1511.65,1131.1 1511.84,1119.7 1512.03,1093.3 1512.23,1113.9 1512.42,1094.4 1512.61,1107.5 1512.81,1138.6 1513.00,1128.6 1513.19,1117.9 1513.39,1133.6 1513.58,1130.5 1513.77,1124.1 1513.96,1130.7 1514.16,1093.7 1514.35,1142.9 1514.54,1099.8 1514.74,1115.6 1514.93,1091.7 1515.12,1079.3 1515.32,1081.8 1515.51,1079.7 1515.70,1077.2 1515.90,1082.6 1516.09,1100.7 1516.28,1082.7 1516.47,1080.6 1516.67,1086.2 1516.86,1102.1 1517.05,1104.5 1517.25,1153.8 1517.44,1128.7 1517.63,1114.5 1517.83,1087.4 1518.02,1081.0 1518.21,1101.2 1518.41,1126.9 1518.60,1091.8 1518.79,1080.1 1518.98,1083.2 1519.18,1112.1 1519.37,1117.2 1519.56,1110.0 1519.76,1110.6 1519.95,1064.3 1520.14,1078.5 1520.34,1040.5 1520.53,1054.0 1520.72,1070.5 1520.92,1109.4 1521.11,1082.9 1521.30,1088.7 1521.49,1129.5 1521.69,1128.1 1521.88,1118.3 1522.07,1077.3 1522.27,1114.6 1522.46,1138.0 1522.65,1108.5 1522.85,1098.6 1523.04,1137.2 1523.23,1069.1 1523.43,1124.3 1523.62,1084.5 1523.81,1091.8 1524.00,1121.6 1524.20,1107.7 1524.39,1103.4 1524.58,1110.1 1524.78,1085.3 1524.97,1099.7 1525.16,1138.3 1525.36,1100.3 1525.55,1128.7 1525.74,1111.3 1525.94,1104.0 1526.13,1113.7 1526.32,1090.4 1526.51,1113.5 1526.71,1121.9 1526.90,1073.9 1527.09,1092.3 1527.29,1110.0 1527.48,1105.7 1527.67,1112.8 1527.87,1100.6 1528.06,1121.5 1528.25,1061.9 1528.45,1072.5 1528.64,1146.8 1528.83,1119.8 1529.02,1101.7 1529.22,1117.2 1529.41,1152.0 1529.60,1093.8 1529.80,1134.7 1529.99,1093.2 1530.18,1095.2 1530.38,1068.7 1530.57,1117.2 1530.76,1056.0 1530.96,1118.0 1531.15,1055.6 1531.34,1061.5 1531.53,1072.6 1531.73,1104.0 1531.92,1045.8 1532.11,1063.8 1532.31,1118.6 1532.50,1141.6 1532.69,1104.1 1532.89,1112.7 1533.08,1082.9 1533.27,1097.6 1533.47,1093.5 1533.66,1108.8 1533.85,1074.5 1534.04,1105.0 1534.24,1124.5 1534.43,1144.7 1534.62,1084.6 1534.82,1112.7 1535.01,1140.7 1535.20,1126.8 1535.40,1119.8 1535.59,1098.5 1535.78,1159.1 1535.98,1121.0 1536.17,1094.8 1536.36,1099.5 1536.55,1092.5 1536.75,1069.1 1536.94,1132.4 1537.13,1130.3 1537.33,1097.8 1537.52,1089.2 1537.71,1118.7 1537.91,1133.6 1538.10,1150.5 1538.29,1109.4 1538.49,1111.7 1538.68,1139.1 1538.87,1124.5 1539.06,1132.2 1539.26,1097.0 1539.45,1110.5 1539.64,1078.2 1539.84,1073.1 1540.03,1092.1 1540.22,1071.1 1540.42,1072.6 1540.61,1062.1 1540.80,1104.3 1541.00,1081.1 1541.19,1056.2 1541.38,1082.6 1541.57,1106.0 1541.77,1092.2 1541.96,1048.7 1542.15,1106.8 1542.35,1113.7 1542.54,1083.8 1542.73,1115.0 1542.93,1144.3 1543.12,1147.5 1543.31,1115.4 1543.51,1130.8 1543.70,1087.6 1543.89,1133.7 1544.08,1151.3 1544.28,1137.8 1544.47,1146.5 1544.66,1092.7 1544.86,1132.7 1545.05,1082.0 1545.24,1101.1 1545.44,1068.7 1545.63,1114.2 1545.82,1094.0 1546.02,1157.8 1546.21,1123.2 1546.40,1128.0 1546.59,1084.7 1546.79,1108.6 1546.98,1087.9 1547.17,1115.4 1547.37,1126.4 1547.56,1099.8 1547.75,1069.4 1547.95,1098.2 1548.14,1062.1 1548.33,1101.2 1548.53,1099.7 1548.72,1097.5 1548.91,1093.1 1549.10,1100.7 1549.30,1090.7 1549.49,1103.3 1549.68,1108.6 1549.88,1054.0 1550.07,1068.4 1550.26,1094.9 1550.46,1103.4 1550.65,1126.6 1550.84,1082.7 1551.04,1113.4 1551.23,1061.6 1551.42,1143.0 1551.61,1098.6 1551.81,1078.6 1552.00,1113.6 1552.19,1055.0 1552.39,1074.0 1552.58,1072.7 1552.77,1112.8 1552.97,1073.8 1553.16,1076.8 1553.35,1098.8 1553.55,1066.2 1553.74,1099.9 1553.93,1156.5 1554.13,1099.2 1554.32,1066.2 1554.51,1113.6 1554.70,1080.9 1554.90,1107.4 1555.09,1091.5 1555.28,1148.8 1555.48,1129.6 1555.67,1098.4 1555.86,1106.2 1556.06,1135.0 1556.25,1079.3 1556.44,1085.3 1556.64,1109.6 1556.83,1133.3 1557.02,1075.3 1557.21,1098.6 1557.41,1176.0 1557.60,1068.8 1557.79,1104.5 1557.99,1105.3 1558.18,1086.7 1558.37,1110.3 1558.57,1147.7 1558.76,1091.5 1558.95,1097.1 1559.15,1116.3 1559.34,1094.1 1559.53,1115.9 1559.72,1119.6 1559.92,1097.4 1560.11,1148.7 1560.30,1158.2 1560.50,1130.1 1560.69,1158.2 1560.88,1113.4 1561.08,1148.7 1561.27,1169.5 1561.46,1138.9 1561.66,1173.6 1561.85,1094.3 1562.04,1120.6 1562.23,1101.4 1562.43,1101.2 1562.62,1104.8 1562.81,1128.6 1563.01,1086.3 1563.20,1107.8 1563.39,1115.6 1563.59,1141.7 1563.78,1069.1 1563.97,1101.5 1564.17,1106.5 1564.36,1141.3 1564.55,1083.6 1564.74,1109.2 1564.94,1087.2 1565.13,1110.4 1565.32,1126.8 1565.52,1093.9 1565.71,1137.3 1565.90,1135.0 1566.10,1102.3 1566.29,1084.4 1566.48,1199.0 1566.68,1104.2 1566.87,1106.2 1567.06,1099.9 1567.25,1108.9 1567.45,1115.2 1567.64,1094.3 1567.83,1117.7 1568.03,1114.6 1568.22,1088.7 1568.41,1114.8 1568.61,1136.0 1568.80,1114.2 1568.99,1134.1 1569.19,1115.6 1569.38,1144.5 1569.57,1136.0 1569.76,1142.4 1569.96,1081.1 1570.15,1070.1 1570.34,1072.3 1570.54,1090.5 1570.73,1096.5 1570.92,1110.1 1571.12,1097.6 1571.31,1118.5 1571.50,1139.0 1571.70,1097.0 1571.89,1098.4 1572.08,1104.5 1572.27,1115.0 1572.47,1119.8 1572.66,1107.8 1572.85,1103.0 1573.05,1129.7 1573.24,1112.6 1573.43,1124.3 1573.63,1077.4 1573.82,1129.0 1574.01,1125.2 1574.21,1117.2 1574.40,1093.8 1574.59,1115.9 1574.78,1059.3 1574.98,1083.1 1575.17,1153.3 1575.36,1103.2 1575.56,1107.7 1575.75,1150.8 1575.94,1135.3 1576.14,1139.5 1576.33,1159.6 1576.52,1149.7 1576.72,1138.6 1576.91,1151.9 1577.10,1135.9 1577.29,1153.1 1577.49,1107.7 1577.68,1128.4 1577.87,1084.4 1578.07,1064.4 1578.26,1073.9 1578.45,1123.6 1578.65,1110.7 1578.84,1131.4 1579.03,1121.0 1579.23,1151.1 1579.42,1155.2 1579.61,1133.0 1579.80,1145.5 1580.00,1098.1 1580.19,1103.5 1580.38,1107.5 1580.58,1116.0 1580.77,1117.2 1580.96,1095.2 1581.16,1116.8 1581.35,1120.6 1581.54,1082.8 1581.74,1119.9 1581.93,1128.8 1582.12,1128.6 1582.31,1098.2 1582.51,1137.6 1582.70,1139.4 1582.89,1108.4 1583.09,1108.7 1583.28,1104.5 1583.47,1152.3 1583.67,1123.7 1583.86,1142.4 1584.05,1118.1 1584.25,1156.3 1584.44,1123.7 1584.63,1094.1 1584.82,1110.6 1585.02,1171.0 1585.21,1089.7 1585.40,1099.8 1585.60,1110.0 1585.79,1102.1 1585.98,1108.0 1586.18,1077.2 1586.37,1103.2 1586.56,1137.8 1586.76,1124.4 1586.95,1074.8 1587.14,1087.7 1587.33,1095.4 1587.53,1128.3 1587.72,1098.7 1587.91,1086.5 1588.11,1104.7 1588.30,1090.7 1588.49,1081.9 1588.69,1084.3 1588.88,1097.2 1589.07,1097.4 1589.27,1133.8 1589.46,1114.2 1589.65,1090.5 1589.84,1072.1 1590.04,1104.8 1590.23,1087.1 1590.42,1111.7 1590.62,1134.3 1590.81,1106.4 1591.00,1107.8 1591.20,1138.0 1591.39,1138.2 1591.58,1118.8 1591.78,1129.9 1591.97,1107.3 1592.16,1144.7 1592.35,1095.5 1592.55,1122.1 1592.74,1097.6 1592.93,1134.5 1593.13,1079.1 1593.32,1093.8 1593.51,1044.0 1593.71,1137.7 1593.90,1144.9 1594.09,1094.6 1594.29,1094.2 1594.48,1153.2 1594.67,1104.5 1594.86,1094.8 1595.06,1082.1 1595.25,1105.5 1595.44,1136.3 1595.64,1139.3 1595.83,1048.8 1596.02,1081.2 1596.22,1067.8 1596.41,1096.6 1596.60,1097.3 1596.80,1100.4 1596.99,1119.9 1597.18,1110.2 1597.37,1131.3 1597.57,1118.9 1597.76,1088.0 1597.95,1112.2 1598.15,1127.6 1598.34,1076.4 1598.53,1084.5 1598.73,1109.3 1598.92,1143.7 1599.11,1073.9 1599.31,1067.5 1599.50,1102.0 1599.69,1054.5 1599.88,1100.4 1600.08,1088.8 1600.27,1095.7 1600.46,1086.5 1600.66,1098.1 1600.85,1068.4 1601.04,1108.5 1601.24,1092.0 1601.43,1099.8 1601.62,1093.9 1601.82,1114.1 1602.01,1093.6 1602.20,1059.6 1602.40,1068.8 1602.59,1109.8 1602.78,1093.2 1602.97,1107.0 1603.17,1102.3 1603.36,1102.3 1603.55,1116.0 1603.75,1080.7 1603.94,1072.3 1604.13,1090.1 1604.33,1105.7 1604.52,1094.4 1604.71,1116.5 1604.91,1080.7 1605.10,1056.1 1605.29,1165.8 1605.48,1101.8 1605.68,1108.6 1605.87,1102.8 1606.06,1109.1 1606.26,1131.1 1606.45,1097.0 1606.64,1101.6 1606.84,1095.4 1607.03,1093.8 1607.22,1105.4 1607.42,1048.5 1607.61,1127.4 1607.80,1112.1 1607.99,1133.3 1608.19,1110.1 1608.38,1072.5 1608.57,1104.4 1608.77,1118.6 1608.96,1046.0 1609.15,1084.8 1609.35,1110.8 1609.54,1082.3 1609.73,1111.8 1609.93,1110.1 1610.12,1101.9 1610.31,1137.7 1610.50,1079.7 1610.70,1132.4 1610.89,1107.1 1611.08,1102.5 1611.28,1063.1 1611.47,1104.1 1611.66,1095.9 1611.86,1122.7 1612.05,1111.7 1612.24,1105.7 1612.44,1080.2 1612.63,1122.7 1612.82,1092.5 1613.01,1040.7 1613.21,1123.1 1613.40,1142.6 1613.59,1114.6 1613.79,1106.0 1613.98,1067.3 1614.17,1092.8 1614.37,1079.6 1614.56,1120.5 1614.75,1107.8 1614.95,1102.5 1615.14,1128.0 1615.33,1104.2 1615.52,1116.1 1615.72,1105.4 1615.91,1140.4 1616.10,1154.3 1616.30,1081.7 1616.49,1109.7 1616.68,1112.2 1616.88,1054.0 1617.07,1084.8 1617.26,1093.6 1617.46,1114.4 1617.65,1090.5 1617.84,1092.3 1618.03,1101.8 1618.23,1065.0 1618.42,1077.5 1618.61,1078.2 1618.81,1104.3 1619.00,1099.5 1619.19,1061.1 1619.39,1081.5 1619.58,1101.9 1619.77,1088.5 1619.97,1100.6 1620.16,1116.2 1620.35,1115.0 1620.54,1096.6 1620.74,1104.3 1620.93,1044.0 1621.12,1120.6 1621.32,1095.4 1621.51,1122.2 1621.70,1096.7 1621.90,1101.8 1622.09,1126.5 1622.28,1150.2 1622.48,1117.9 1622.67,1101.3 1622.86,1102.0 1623.05,1075.7 1623.25,1103.0 1623.44,1106.3 1623.63,1099.5 1623.83,1119.7 1624.02,1077.1 1624.21,1128.7 1624.41,1137.0 1624.60,1130.8 1624.79,1095.4 1624.99,1133.1 1625.18,1136.2 1625.37,1105.9 1625.56,1090.6 1625.76,1120.9 1625.95,1094.1 1626.14,1119.6 1626.34,1072.9 1626.53,1122.0 1626.72,1102.3 1626.92,1103.4 1627.11,1112.5 1627.30,1094.2 1627.50,1079.5 1627.69,1113.9 1627.88,1060.2 1628.07,1099.2 1628.27,1100.1 1628.46,1125.6 1628.65,1112.3 1628.85,1093.2 1629.04,1133.6 1629.23,1127.4 1629.43,1130.7 1629.62,1141.4 1629.81,1101.7 1630.01,1133.4 1630.20,1083.3 1630.39,1145.6 1630.58,1126.9 1630.78,1118.5 1630.97,1139.7 1631.16,1162.9 1631.36,1130.3 1631.55,1115.4 1631.74,1133.0 1631.94,1105.6 1632.13,1149.0 1632.32,1102.9 1632.52,1065.3 1632.71,1090.4 1632.90,1092.7 1633.09,1125.2 1633.29,1130.8 1633.48,1101.0 1633.67,1132.8 1633.87,1111.9 1634.06,1144.9 1634.25,1114.8 1634.45,1117.2 1634.64,1165.1 1634.83,1118.3 1635.03,1101.4 1635.22,1100.5 1635.41,1103.6 1635.60,1083.8 1635.80,1110.8 1635.99,1123.8 1636.18,1087.3 1636.38,1061.5 1636.57,1114.4 1636.76,1077.7 1636.96,1116.3 1637.15,1147.2 1637.34,1137.7 1637.54,1138.7 1637.73,1096.2 1637.92,1117.2 1638.11,1128.3 1638.31,1176.0 1638.50,1082.4 1638.69,1113.4 1638.89,1127.9 1639.08,1106.8 1639.27,1133.5 1639.47,1106.7 1639.66,1097.7 1639.85,1115.5 1640.05,1128.0 1640.24,1114.6 1640.43,1144.6 1640.62,1079.9 1640.82,1061.8 1641.01,1110.2 1641.20,1154.0 1641.40,1125.3 1641.59,1142.4 1641.78,1153.2 1641.98,1119.4 1642.17,1122.9 1642.36,1135.5 1642.56,1100.7 1642.75,1122.9 1642.94,1142.9 1643.13,1111.6 1643.33,1143.6 1643.52,1120.3 1643.71,1125.8 1643.91,1098.0 1644.10,1106.9 1644.29,1112.0 1644.49,1094.5 1644.68,1091.6 1644.87,1098.7 1645.07,1083.2 1645.26,1131.5 1645.45,1103.6 1645.64,1078.7 1645.84,1114.8 1646.03,1162.2 1646.22,1095.6 1646.42,1119.5 1646.61,1099.4 1646.80,1103.6 1647.00,1091.8 1647.19,1073.9 1647.38,1092.0 1647.58,1074.9 1647.77,1117.5 1647.96,1109.6 1648.15,1096.1 1648.35,1064.8 1648.54,1120.4 1648.73,1114.3 1648.93,1095.3 1649.12,1121.3 1649.31,1137.7 1649.51,1151.5 1649.70,1093.1 1649.89,1132.5 1650.09,1100.7 1650.28,1096.7 1650.47,1129.0 1650.67,1100.6 1650.86,1158.4 1651.05,1120.2 1651.24,1143.4 1651.44,1119.6 1651.63,1121.7 1651.82,1121.3 1652.02,1108.6 1652.21,1129.3 1652.40,1139.6 1652.60,1129.6 1652.79,1079.6 1652.98,1122.5 1653.18,1110.9 1653.37,1100.4 1653.56,1115.6 1653.75,1137.0 1653.95,1163.6 1654.14,1101.2 1654.33,1183.0 1654.53,1154.0 1654.72,1132.4 1654.91,1117.3 1655.11,1159.2 1655.30,1114.7 1655.49,1116.7 1655.69,1106.0 1655.88,1113.8 1656.07,1133.4 1656.26,1145.3 1656.46,1114.8 1656.65,1122.3 1656.84,1081.7 1657.04,1124.7 1657.23,1117.0 1657.42,1132.3 1657.62,1177.2 1657.81,1130.0 1658.00,1158.8 1658.20,1179.9 1658.39,1138.1 1658.58,1114.8 1658.77,1134.8 1658.97,1129.2 1659.16,1128.5 1659.35,1117.2 1659.55,1079.8 1659.74,1097.8 1659.93,1088.2 1660.13,1082.8 1660.32,1153.3 1660.51,1088.8 1660.71,1080.1 1660.90,1087.8 1661.09,1124.7 1661.28,1112.1 1661.48,1084.5 1661.67,1092.8 1661.86,1095.0 1662.06,1131.3 1662.25,1104.8 1662.44,1083.4 1662.64,1115.6 1662.83,1090.5 1663.02,1101.7 1663.22,1102.3 1663.41,1132.4 1663.60,1130.0 1663.79,1128.5 1663.99,1088.9 1664.18,1086.1 1664.37,1134.3 1664.57,1141.2 1664.76,1113.9 1664.95,1091.0 1665.15,1114.2 1665.34,1107.9 1665.53,1111.6 1665.73,1109.9 1665.92,1125.1 1666.11,1112.2 1666.30,1106.9 1666.50,1121.3 1666.69,1081.3 1666.88,1135.4 1667.08,1117.9 1667.27,1124.7 1667.46,1083.1 1667.66,1082.5 1667.85,1122.5 1668.04,1108.0 1668.24,1121.9 1668.43,1143.5 1668.62,1133.9 1668.81,1111.5 1669.01,1107.4 1669.20,1134.9 1669.39,1119.9 1669.59,1102.5 1669.78,1090.5 1669.97,1111.6 1670.17,1134.8 1670.36,1149.1 1670.55,1113.0 1670.75,1118.7 1670.94,1122.7 1671.13,1123.8 1671.32,1120.8 1671.52,1106.0 1671.71,1095.7 1671.90,1127.6 1672.10,1072.7 1672.29,1081.9 1672.48,1115.6 1672.68,1102.5 1672.87,1075.7 1673.06,1125.1 1673.26,1118.7 1673.45,1119.6 1673.64,1130.8 1673.83,1099.1 1674.03,1122.9 1674.22,1120.6 1674.41,1124.0 1674.61,1130.6 1674.80,1094.0 1674.99,1127.8 1675.19,1142.1 1675.38,1154.5 1675.57,1142.7 1675.77,1128.1 1675.96,1132.2 1676.15,1133.2 1676.34,1149.6 1676.54,1131.5 1676.73,1128.8 1676.92,1159.8 1677.12,1122.7 1677.31,1119.1 1677.50,1131.6 1677.70,1102.6 1677.89,1124.0 1678.08,1140.5 1678.28,1104.3 1678.47,1086.4 1678.66,1146.9 1678.85,1124.9 1679.05,1106.2 1679.24,1113.4 1679.43,1106.7 1679.63,1102.0 1679.82,1167.2 1680.01,1115.6 1680.21,1162.9 1680.40,1147.4 1680.59,1148.6 1680.79,1114.0 1680.98,1197.0 1681.17,1117.6 1681.36,1149.3 1681.56,1074.6 1681.75,1124.9 1681.94,1111.7 1682.14,1133.4 1682.33,1119.2 1682.52,1079.4 1682.72,1102.7 1682.91,1135.0 1683.10,1125.6 1683.30,1122.8 1683.49,1086.2 1683.68,1126.5 1683.87,1114.4 1684.07,1099.7 1684.26,1069.2 1684.45,1101.9 1684.65,1134.3 1684.84,1131.0 1685.03,1074.8 1685.23,1102.5 1685.42,1151.7 1685.61,1121.5 1685.81,1117.5 1686.00,1110.8 1686.19,1086.0 1686.38,1081.9 1686.58,1065.9 1686.77,1133.0 1686.96,1089.1 1687.16,1103.0 1687.35,1125.3 1687.54,1089.9 1687.74,1138.7 1687.93,1142.4 1688.12,1080.7 1688.32,1106.0 1688.51,1096.4 1688.70,1085.0 1688.89,1138.4 1689.09,1082.1 1689.28,1108.3 1689.47,1100.1 1689.67,1096.4 1689.86,1102.2 1690.05,1125.6 1690.25,1119.5 1690.44,1116.7 1690.63,1098.2 1690.83,1166.1 1691.02,1089.2 1691.21,1138.8 1691.40,1075.6 1691.60,1114.3 1691.79,1090.6 1691.98,1134.4 1692.18,1094.0 1692.37,1121.0 1692.56,1118.8 1692.76,1113.9 1692.95,1170.3 1693.14,1142.4 1693.34,1138.5 1693.53,1096.7 1693.72,1099.1 1693.91,1074.9 1694.11,1084.3 1694.30,1066.4 1694.49,1109.9 1694.69,1091.9 1694.88,1115.6 1695.07,1136.1 1695.27,1155.0 1695.46,1124.0 1695.65,1143.5 1695.85,1135.5 1696.04,1143.2 1696.23,1143.4 1696.42,1057.1 1696.62,1111.3 1696.81,1135.5 1697.00,1108.2 1697.20,1101.3 1697.39,1132.3 1697.58,1080.0 1697.78,1124.1 1697.97,1095.4 1698.16,1117.8 1698.36,1126.3 1698.55,1048.5 1698.74,1123.7 1698.94,1142.8 1699.13,1120.6 1699.32,1129.4 1699.51,1084.6 1699.71,1098.8 1699.90,1133.9 1700.09,1071.9 1700.29,1114.0 1700.48,1135.8 1700.67,1083.2 1700.87,1091.1 1701.06,1125.6 1701.25,1128.0 1701.45,1107.9 1701.64,1119.6 1701.83,1094.5 1702.02,1101.5 1702.22,1134.2 1702.41,1041.0 1702.60,1115.4 1702.80,1083.1 1702.99,1125.4 1703.18,1100.2 1703.38,1127.5 1703.57,1103.9 1703.76,1123.4 1703.96,1099.1 1704.15,1123.0 1704.34,1115.5 1704.53,1054.3 1704.73,1073.0 1704.92,1117.8 1705.11,1065.6 1705.31,1094.7 1705.50,1062.5 1705.69,1120.0 1705.89,1093.3 1706.08,1100.3 1706.27,1106.3 1706.47,1116.5 1706.66,1051.1 1706.85,1094.4 1707.04,1101.8 1707.24,1130.1 1707.43,1069.3 1707.62,1067.0 1707.82,1092.6 1708.01,1117.5 1708.20,1076.6 1708.40,1091.6 1708.59,1127.4 1708.78,1057.1 1708.98,1091.6 1709.17,1132.7 1709.36,1132.0 1709.55,1098.9 1709.75,1088.7 1709.94,1099.0 1710.13,1097.5 1710.33,1113.9 1710.52,1059.7 1710.71,1109.8 1710.91,1099.7 1711.10,1097.4 1711.29,1112.4 1711.49,1089.9 1711.68,1072.9 1711.87,1153.3 1712.06,1109.4 1712.26,1077.2 1712.45,1073.8 1712.64,1114.9 1712.84,1091.7 1713.03,1103.9 1713.22,1106.9 1713.42,1124.8 1713.61,1089.7 1713.80,1084.4 1714.00,1074.8 1714.19,1103.1 1714.38,1106.3 1714.57,1085.3 1714.77,1048.1 1714.96,1113.1 1715.15,1108.3 1715.35,1065.9 1715.54,1124.4 1715.73,1150.4 1715.93,1184.0 1716.12,1059.7 1716.31,1060.5 1716.51,1068.8 1716.70,1069.6 1716.89,1111.2 1717.08,1077.0 1717.28,1123.5 1717.47,1137.9 1717.66,1110.8 1717.86,1135.1 1718.05,1132.3 1718.24,1123.5 1718.44,1119.5 1718.63,1107.9 1718.82,1132.3 1719.02,1121.1 1719.21,1108.5 1719.40,1098.3 1719.59,1088.9 1719.79,1081.6 1719.98,1093.7 1720.17,1090.0 1720.37,1086.8 1720.56,1102.8" fill="none" stroke="#000" stroke-width="1.5" stroke-linejoin="bevel" shape-rendering="crispEdges"/>
<g fill="#000" shape-rendering="crispEdges">
<rect x="270" y="41" width="1453" height="6"/>
<rect x="270" y="1210" width="1453" height="5"/>
<rect x="270" y="41" width="5" height="1174"/>
<rect x="1718" y="41" width="5" height="1174"/>
<rect x="275" y="1155" width="21" height="5"/>
<rect x="275" y="932" width="21" height="5"/>
<rect x="275" y="709" width="21" height="5"/>
<rect x="275" y="487" width="21" height="5"/>
<rect x="275" y="264" width="21" height="5"/>
<rect x="275" y="1043" width="9" height="5"/>
<rect x="275" y="821" width="9" height="5"/>
<rect x="275" y="598" width="9" height="5"/>
<rect x="275" y="376" width="9" height="5"/>
<rect x="275" y="153" width="9" height="5"/>
<rect x="366" y="1189" width="6" height="21"/>
<rect x="559" y="1189" width="6" height="21"/>
<rect x="753" y="1189" width="5" height="21"/>
<rect x="946" y="1189" width="5" height="21"/>
<rect x="1139" y="1189" width="5" height="21"/>
<rect x="1332" y="1189" width="5" height="21"/>
<rect x="1525" y="1189" width="5" height="21"/>
<rect x="463" y="1201" width="5" height="9"/>
<rect x="656" y="1201" width="5" height="9"/>
<rect x="849" y="1201" width="5" height="9"/>
<rect x="1042" y="1201" width="5" height="9"/>
<rect x="1235" y="1201" width="5" height="9"/>
<rect x="1428" y="1201" width="6" height="9"/>
<rect x="1621" y="1201" width="6" height="9"/>
</g>
<text class="tick" x="248" y="1171.5" text-anchor="end">400</text>
<text class="tick" x="248" y="948.7" text-anchor="end">600</text>
<text class="tick" x="248" y="726.0" text-anchor="end">800</text>
<text class="tick" x="248" y="503.2" text-anchor="end">1000</text>
<text class="tick" x="248" y="280.5" text-anchor="end">1200</text>
<text class="tick" x="248" y="57.7" text-anchor="end">1400</text>
<text class="tick" x="369.2" y="1274.5" text-anchor="middle">10</text>
<text class="tick" x="562.3" y="1274.5" text-anchor="middle">20</text>
<text class="tick" x="755.4" y="1274.5" text-anchor="middle">30</text>
<text class="tick" x="948.4" y="1274.5" text-anchor="middle">40</text>
<text class="tick" x="1141.5" y="1274.5" text-anchor="middle">50</text>
<text class="tick" x="1334.6" y="1274.5" text-anchor="middle">60</text>
<text class="tick" x="1527.7" y="1274.5" text-anchor="middle">70</text>
<text class="tick" x="1720.8" y="1274.5" text-anchor="middle">80</text>
<text class="ttl" transform="translate(996.2,1370.3) scale(0.973,1)" text-anchor="middle">2Theta/deg</text>
<text class="ttl" transform="translate(81,600) rotate(-90) scale(0.986,1)" text-anchor="middle">Intensity/cps</text>
<text class="leg" transform="translate(1168,120.2) scale(0.955,1)">M-Magnetite, Fe<tspan font-size="31" dy="12">3</tspan><tspan dy="-12">O</tspan><tspan font-size="31" dy="12">4</tspan></text>
<text class="leg" transform="translate(1168,201) scale(0.955,1)">F-Fayalite, Fe<tspan font-size="31" dy="12">2</tspan><tspan dy="-12">SiO</tspan><tspan font-size="31" dy="12">4</tspan></text>
<text class="pk" transform="translate(534.5,952.4) scale(1.06,1)" text-anchor="middle">M</text>
<text class="pk" transform="translate(665.4,876.7) scale(0.97,1)" text-anchor="middle">F</text>
<text class="pk" transform="translate(760.5,852.6) scale(1.06,1)" text-anchor="middle">M</text>
<text class="pk" transform="translate(787.3,839) scale(0.97,1)" text-anchor="middle">F</text>
<text class="pk" transform="translate(847.9,910.2) scale(0.97,1)" text-anchor="middle">F</text>
<text class="pk" transform="translate(868.5,141) scale(1.06,1)" text-anchor="middle">M</text>
<text class="pk" transform="translate(875.6,797.2) scale(0.97,1)" text-anchor="middle">F</text>
<text class="pk" transform="translate(900.6,987.1) scale(1.06,1)" text-anchor="middle">M</text>
<text class="pk" transform="translate(935.3,970.4) scale(0.97,1)" text-anchor="middle">F</text>
<text class="pk" transform="translate(1009.6,949.8) scale(1.06,1)" text-anchor="middle">M</text>
<text class="pk" transform="translate(1173.3,907.5) scale(0.97,1)" text-anchor="middle">F</text>
<text class="pk" transform="translate(1279.6,922.7) scale(1.06,1)" text-anchor="middle">M</text>
<text class="pk" transform="translate(1385.6,886.7) scale(1.06,1)" text-anchor="middle">M</text>
</svg></body></html>
